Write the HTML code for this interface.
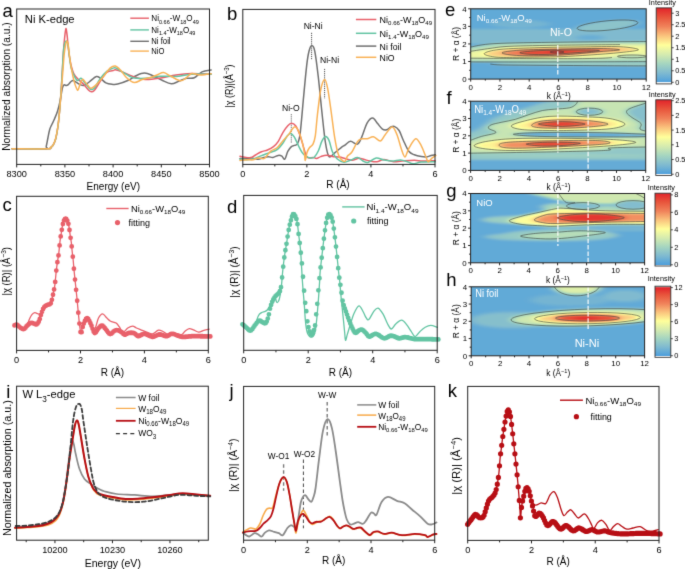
<!DOCTYPE html>
<html><head><meta charset="utf-8"><style>
html,body{margin:0;padding:0;background:#fff;}
svg{display:block;will-change:transform;}
text{font-family:"Liberation Sans", sans-serif;}
</style></head><body>
<svg width="685" height="569" viewBox="0 0 685 569" font-family='"Liberation Sans", sans-serif'>
<defs><filter id="soft" x="0" y="0" width="685" height="569" filterUnits="userSpaceOnUse" color-interpolation-filters="sRGB"><feConvolveMatrix order="3" kernelMatrix="0.0113 0.0838 0.0113 0.0838 0.6193 0.0838 0.0113 0.0838 0.0113" edgeMode="duplicate" preserveAlpha="true"/></filter><filter id="cmap" x="0" y="0" width="1" height="1" color-interpolation-filters="sRGB" filterUnits="objectBoundingBox"><feGaussianBlur stdDeviation="{BX} {BY}" result="b"/><feComponentTransfer><feFuncR type="table" tableValues="0.306 0.498 0.647 0.835 1.000 0.980 0.941 0.910 0.886"/><feFuncG type="table" tableValues="0.624 0.729 0.835 0.922 1.000 0.765 0.510 0.333 0.137"/><feFuncB type="table" tableValues="0.863 0.816 0.753 0.686 0.608 0.490 0.353 0.235 0.165"/></feComponentTransfer></filter>
<filter id="cmap0" x="0" y="0" width="1" height="1" color-interpolation-filters="sRGB" filterUnits="objectBoundingBox"><feComponentTransfer><feFuncR type="table" tableValues="0.306 0.498 0.647 0.835 1.000 0.980 0.941 0.910 0.886"/><feFuncG type="table" tableValues="0.624 0.729 0.835 0.922 1.000 0.765 0.510 0.333 0.137"/><feFuncB type="table" tableValues="0.863 0.816 0.753 0.686 0.608 0.490 0.353 0.235 0.165"/></feComponentTransfer></filter>
<clipPath id="wc1"><rect x="470.7" y="8.8" width="175.5" height="70.3"/></clipPath>
<filter id="wf1" filterUnits="userSpaceOnUse" x="450.7" y="-11.2" width="215.5" height="110.3" color-interpolation-filters="sRGB"><feGaussianBlur stdDeviation="4.5 1.3"/><feComponentTransfer><feFuncR type="table" tableValues="0.306 0.498 0.647 0.835 1.000 0.980 0.941 0.910 0.886"/><feFuncG type="table" tableValues="0.624 0.729 0.835 0.922 1.000 0.765 0.510 0.333 0.137"/><feFuncB type="table" tableValues="0.863 0.816 0.753 0.686 0.608 0.490 0.353 0.235 0.165"/></feComponentTransfer></filter>
<linearGradient id="cbg4" x1="0" y1="0" x2="0" y2="1"><stop offset="0.0000" stop-color="rgb(226,35,42)"/><stop offset="0.1223" stop-color="rgb(232,85,60)"/><stop offset="0.2447" stop-color="rgb(240,130,90)"/><stop offset="0.3670" stop-color="rgb(250,195,125)"/><stop offset="0.4894" stop-color="rgb(255,255,155)"/><stop offset="0.6117" stop-color="rgb(213,235,175)"/><stop offset="0.7341" stop-color="rgb(165,213,192)"/><stop offset="0.8564" stop-color="rgb(127,186,208)"/><stop offset="0.9788" stop-color="rgb(78,159,220)"/><stop offset="0.9818" stop-color="#ffffff"/><stop offset="1.0000" stop-color="#ffffff"/></linearGradient>
<clipPath id="wc2"><rect x="470.6" y="101.2" width="175.1" height="69.2"/></clipPath>
<filter id="wf2" filterUnits="userSpaceOnUse" x="450.6" y="81.2" width="215.1" height="109.2" color-interpolation-filters="sRGB"><feGaussianBlur stdDeviation="4.5 1.3"/><feComponentTransfer><feFuncR type="table" tableValues="0.306 0.498 0.647 0.835 1.000 0.980 0.941 0.910 0.886"/><feFuncG type="table" tableValues="0.624 0.729 0.835 0.922 1.000 0.765 0.510 0.333 0.137"/><feFuncB type="table" tableValues="0.863 0.816 0.753 0.686 0.608 0.490 0.353 0.235 0.165"/></feComponentTransfer></filter>
<linearGradient id="cbg7" x1="0" y1="0" x2="0" y2="1"><stop offset="0.0000" stop-color="rgb(226,35,42)"/><stop offset="0.1231" stop-color="rgb(232,85,60)"/><stop offset="0.2461" stop-color="rgb(240,130,90)"/><stop offset="0.3692" stop-color="rgb(250,195,125)"/><stop offset="0.4922" stop-color="rgb(255,255,155)"/><stop offset="0.6153" stop-color="rgb(213,235,175)"/><stop offset="0.7383" stop-color="rgb(165,213,192)"/><stop offset="0.8614" stop-color="rgb(127,186,208)"/><stop offset="0.9844" stop-color="rgb(78,159,220)"/><stop offset="0.9874" stop-color="#ffffff"/><stop offset="1.0000" stop-color="#ffffff"/></linearGradient>
<clipPath id="wc3"><rect x="470.6" y="193.5" width="174" height="69.3"/></clipPath>
<filter id="wf3" filterUnits="userSpaceOnUse" x="450.6" y="173.5" width="214" height="109.3" color-interpolation-filters="sRGB"><feGaussianBlur stdDeviation="4.5 1.3"/><feComponentTransfer><feFuncR type="table" tableValues="0.306 0.498 0.647 0.835 1.000 0.980 0.941 0.910 0.886"/><feFuncG type="table" tableValues="0.624 0.729 0.835 0.922 1.000 0.765 0.510 0.333 0.137"/><feFuncB type="table" tableValues="0.863 0.816 0.753 0.686 0.608 0.490 0.353 0.235 0.165"/></feComponentTransfer></filter>
<linearGradient id="cbg10" x1="0" y1="0" x2="0" y2="1"><stop offset="0.0000" stop-color="rgb(226,35,42)"/><stop offset="0.1229" stop-color="rgb(232,85,60)"/><stop offset="0.2458" stop-color="rgb(240,130,90)"/><stop offset="0.3687" stop-color="rgb(250,195,125)"/><stop offset="0.4916" stop-color="rgb(255,255,155)"/><stop offset="0.6145" stop-color="rgb(213,235,175)"/><stop offset="0.7374" stop-color="rgb(165,213,192)"/><stop offset="0.8603" stop-color="rgb(127,186,208)"/><stop offset="0.9832" stop-color="rgb(78,159,220)"/><stop offset="0.9862" stop-color="#ffffff"/><stop offset="1.0000" stop-color="#ffffff"/></linearGradient>
<clipPath id="wc4"><rect x="471.2" y="286.8" width="173.4" height="69"/></clipPath>
<filter id="wf4" filterUnits="userSpaceOnUse" x="451.2" y="266.8" width="213.4" height="109" color-interpolation-filters="sRGB"><feGaussianBlur stdDeviation="4.5 1.5"/><feComponentTransfer><feFuncR type="table" tableValues="0.306 0.498 0.647 0.835 1.000 0.980 0.941 0.910 0.886"/><feFuncG type="table" tableValues="0.624 0.729 0.835 0.922 1.000 0.765 0.510 0.333 0.137"/><feFuncB type="table" tableValues="0.863 0.816 0.753 0.686 0.608 0.490 0.353 0.235 0.165"/></feComponentTransfer></filter>
<linearGradient id="cbg13" x1="0" y1="0" x2="0" y2="1"><stop offset="0.0000" stop-color="#d8d8d8"/><stop offset="0.0120" stop-color="#d8d8d8"/><stop offset="0.0200" stop-color="rgb(226,35,42)"/><stop offset="0.1222" stop-color="rgb(232,85,60)"/><stop offset="0.2444" stop-color="rgb(240,130,90)"/><stop offset="0.3666" stop-color="rgb(250,195,125)"/><stop offset="0.4888" stop-color="rgb(255,255,155)"/><stop offset="0.6110" stop-color="rgb(213,235,175)"/><stop offset="0.7332" stop-color="rgb(165,213,192)"/><stop offset="0.8554" stop-color="rgb(127,186,208)"/><stop offset="0.9777" stop-color="rgb(78,159,220)"/><stop offset="0.9807" stop-color="#ffffff"/><stop offset="1.0000" stop-color="#ffffff"/></linearGradient></defs>
<g filter="url(#soft)"><rect x="0" y="0" width="685" height="569" fill="#fff"/>
<text x="2.4" y="16.8" font-size="18.5" fill="#000" >a</text>
<text x="227" y="20" font-size="18.5" fill="#000" >b</text>
<text x="445" y="15.9" font-size="18.5" fill="#000" >e</text>
<text x="446.6" y="104.4" font-size="18.5" fill="#000" >f</text>
<text x="446.2" y="197.3" font-size="18.5" fill="#000" >g</text>
<text x="446.3" y="286" font-size="18.5" fill="#000" >h</text>
<text x="2.4" y="211" font-size="18.5" fill="#000" >c</text>
<text x="227" y="212.7" font-size="18.5" fill="#000" >d</text>
<text x="6.3" y="397.5" font-size="18.5" fill="#000" >i</text>
<text x="229.5" y="396.6" font-size="18.5" fill="#000" >j</text>
<text x="447.8" y="397" font-size="18.5" fill="#000" >k</text>
<line x1="16.7" y1="164.4" x2="16.7" y2="167.4" stroke="#222222" stroke-width="1" />
<line x1="64.9" y1="164.4" x2="64.9" y2="167.4" stroke="#222222" stroke-width="1" />
<line x1="113.1" y1="164.4" x2="113.1" y2="167.4" stroke="#222222" stroke-width="1" />
<line x1="161.3" y1="164.4" x2="161.3" y2="167.4" stroke="#222222" stroke-width="1" />
<line x1="209.5" y1="164.4" x2="209.5" y2="167.4" stroke="#222222" stroke-width="1" />
<line x1="40.8" y1="164.4" x2="40.8" y2="166.4" stroke="#222222" stroke-width="1" />
<line x1="89" y1="164.4" x2="89" y2="166.4" stroke="#222222" stroke-width="1" />
<line x1="137.2" y1="164.4" x2="137.2" y2="166.4" stroke="#222222" stroke-width="1" />
<line x1="185.4" y1="164.4" x2="185.4" y2="166.4" stroke="#222222" stroke-width="1" />
<text x="16.7" y="176.6" font-size="9.94" fill="#000" text-anchor="middle" textLength="20.46" lengthAdjust="spacingAndGlyphs" >8300</text>
<text x="64.9" y="176.6" font-size="9.94" fill="#000" text-anchor="middle" textLength="20.46" lengthAdjust="spacingAndGlyphs" >8350</text>
<text x="113.1" y="176.6" font-size="9.94" fill="#000" text-anchor="middle" textLength="20.46" lengthAdjust="spacingAndGlyphs" >8400</text>
<text x="161.3" y="176.6" font-size="9.94" fill="#000" text-anchor="middle" textLength="20.46" lengthAdjust="spacingAndGlyphs" >8450</text>
<text x="209.5" y="176.6" font-size="9.94" fill="#000" text-anchor="middle" textLength="20.46" lengthAdjust="spacingAndGlyphs" >8500</text>
<text x="113.3" y="189.8" font-size="10" fill="#000" text-anchor="middle" textLength="53.5" lengthAdjust="spacingAndGlyphs" >Energy (eV)</text>
<text x="10.5" y="86.6" font-size="10" fill="#000" text-anchor="middle" transform="rotate(-90 10.5 86.6)" textLength="128.5" lengthAdjust="spacingAndGlyphs" >Normalized absorption (a.u.)</text>
<text x="24.8" y="22.8" font-size="11.8" fill="#000" textLength="49.8" lengthAdjust="spacingAndGlyphs" >Ni K-edge</text>
<line x1="130.3" y1="18.2" x2="148.9" y2="18.2" stroke="#e8606a" stroke-width="1.4" />
<text x="151.3" y="21.3" font-size="8.6" fill="#000" textLength="47.5" lengthAdjust="spacingAndGlyphs" >Ni<tspan font-size="5.85" dy="2.41">0.66</tspan><tspan dy="-2.41">-W</tspan><tspan font-size="5.85" dy="2.41">18</tspan><tspan dy="-2.41">O</tspan><tspan font-size="5.85" dy="2.41">49</tspan></text>
<line x1="130.3" y1="29.9" x2="148.9" y2="29.9" stroke="#62c4a2" stroke-width="1.4" />
<text x="151.3" y="33" font-size="8.6" fill="#000" textLength="44" lengthAdjust="spacingAndGlyphs" >Ni<tspan font-size="5.85" dy="2.41">1.4</tspan><tspan dy="-2.41">-W</tspan><tspan font-size="5.85" dy="2.41">18</tspan><tspan dy="-2.41">O</tspan><tspan font-size="5.85" dy="2.41">49</tspan></text>
<line x1="130.3" y1="41.3" x2="148.9" y2="41.3" stroke="#707070" stroke-width="1.4" />
<text x="151.3" y="44.4" font-size="8.6" fill="#000" textLength="19.3" lengthAdjust="spacingAndGlyphs" >Ni foil</text>
<line x1="130.3" y1="51.1" x2="148.9" y2="51.1" stroke="#f9b256" stroke-width="1.4" />
<text x="151.3" y="54.2" font-size="8.6" fill="#000" textLength="13.2" lengthAdjust="spacingAndGlyphs" >NiO</text>
<line x1="242.8" y1="164.4" x2="242.8" y2="167.4" stroke="#222222" stroke-width="1" />
<line x1="306.87" y1="164.4" x2="306.87" y2="167.4" stroke="#222222" stroke-width="1" />
<line x1="370.93" y1="164.4" x2="370.93" y2="167.4" stroke="#222222" stroke-width="1" />
<line x1="435" y1="164.4" x2="435" y2="167.4" stroke="#222222" stroke-width="1" />
<line x1="274.83" y1="164.4" x2="274.83" y2="166.4" stroke="#222222" stroke-width="1" />
<line x1="338.9" y1="164.4" x2="338.9" y2="166.4" stroke="#222222" stroke-width="1" />
<line x1="402.97" y1="164.4" x2="402.97" y2="166.4" stroke="#222222" stroke-width="1" />
<text x="242.8" y="177" font-size="9.94" fill="#000" text-anchor="middle" textLength="5.12" lengthAdjust="spacingAndGlyphs" >0</text>
<text x="306.87" y="177" font-size="9.94" fill="#000" text-anchor="middle" textLength="5.12" lengthAdjust="spacingAndGlyphs" >2</text>
<text x="370.93" y="177" font-size="9.94" fill="#000" text-anchor="middle" textLength="5.12" lengthAdjust="spacingAndGlyphs" >4</text>
<text x="435" y="177" font-size="9.94" fill="#000" text-anchor="middle" textLength="5.12" lengthAdjust="spacingAndGlyphs" >6</text>
<text x="338" y="188" font-size="10" fill="#000" text-anchor="middle" >R (Å)</text>
<text x="232.6" y="86" font-size="10.3" fill="#000" text-anchor="middle" transform="rotate(-90 232.6 86)" textLength="43" lengthAdjust="spacingAndGlyphs" >|χ (R)|(Å<tspan font-size="7" dy="-3.91">−3</tspan><tspan dy="3.91">)</tspan></text>
<line x1="355.9" y1="19.5" x2="376.3" y2="19.5" stroke="#e8606a" stroke-width="1.5" />
<text x="379.6" y="22.9" font-size="8.8" fill="#000" textLength="52.5" lengthAdjust="spacingAndGlyphs" >Ni<tspan font-size="5.98" dy="2.46">0.66</tspan><tspan dy="-2.46">-W</tspan><tspan font-size="5.98" dy="2.46">18</tspan><tspan dy="-2.46">O</tspan><tspan font-size="5.98" dy="2.46">49</tspan></text>
<line x1="355.9" y1="33.3" x2="376.3" y2="33.3" stroke="#62c4a2" stroke-width="1.5" />
<text x="379.6" y="36.7" font-size="8.8" fill="#000" textLength="49.3" lengthAdjust="spacingAndGlyphs" >Ni<tspan font-size="5.98" dy="2.46">1.4</tspan><tspan dy="-2.46">-W</tspan><tspan font-size="5.98" dy="2.46">18</tspan><tspan dy="-2.46">O</tspan><tspan font-size="5.98" dy="2.46">49</tspan></text>
<line x1="355.9" y1="46.1" x2="376.3" y2="46.1" stroke="#707070" stroke-width="1.5" />
<text x="379.6" y="49.5" font-size="8.8" fill="#000" textLength="21.8" lengthAdjust="spacingAndGlyphs" >Ni foil</text>
<line x1="355.9" y1="57.3" x2="376.3" y2="57.3" stroke="#f9b256" stroke-width="1.5" />
<text x="379.6" y="60.7" font-size="8.8" fill="#000" textLength="15" lengthAdjust="spacingAndGlyphs" >NiO</text>
<text x="313.2" y="29" font-size="8.6" fill="#000" text-anchor="middle" >Ni-Ni</text>
<text x="329.5" y="62.7" font-size="8.6" fill="#000" text-anchor="middle" >Ni-Ni</text>
<text x="290.8" y="111.2" font-size="8.6" fill="#000" text-anchor="middle" >Ni-O</text>
<line x1="311.6" y1="32.8" x2="311.6" y2="60.1" stroke="#222" stroke-width="0.8" stroke-dasharray="1.2 0.9"/>
<line x1="324.6" y1="68.9" x2="324.6" y2="98.6" stroke="#222" stroke-width="0.8" stroke-dasharray="1.2 0.9"/>
<line x1="291.3" y1="114.1" x2="291.3" y2="143.5" stroke="#444" stroke-width="0.8" stroke-dasharray="1.2 0.9"/>
<line x1="16.6" y1="350.4" x2="16.6" y2="353.4" stroke="#222222" stroke-width="1" />
<line x1="80.5" y1="350.4" x2="80.5" y2="353.4" stroke="#222222" stroke-width="1" />
<line x1="144.4" y1="350.4" x2="144.4" y2="353.4" stroke="#222222" stroke-width="1" />
<line x1="208.3" y1="350.4" x2="208.3" y2="353.4" stroke="#222222" stroke-width="1" />
<line x1="48.55" y1="350.4" x2="48.55" y2="352.4" stroke="#222222" stroke-width="1" />
<line x1="112.45" y1="350.4" x2="112.45" y2="352.4" stroke="#222222" stroke-width="1" />
<line x1="176.35" y1="350.4" x2="176.35" y2="352.4" stroke="#222222" stroke-width="1" />
<text x="16.6" y="363" font-size="9.94" fill="#000" text-anchor="middle" textLength="5.12" lengthAdjust="spacingAndGlyphs" >0</text>
<text x="80.5" y="363" font-size="9.94" fill="#000" text-anchor="middle" textLength="5.12" lengthAdjust="spacingAndGlyphs" >2</text>
<text x="144.4" y="363" font-size="9.94" fill="#000" text-anchor="middle" textLength="5.12" lengthAdjust="spacingAndGlyphs" >4</text>
<text x="208.3" y="363" font-size="9.94" fill="#000" text-anchor="middle" textLength="5.12" lengthAdjust="spacingAndGlyphs" >6</text>
<text x="112.4" y="376.4" font-size="10" fill="#000" text-anchor="middle" >R (Å)</text>
<text x="10.4" y="271.3" font-size="10.8" fill="#000" text-anchor="middle" transform="rotate(-90 10.4 271.3)" textLength="48.6" lengthAdjust="spacingAndGlyphs" >|χ (R)| (Å<tspan font-size="7.34" dy="-4.1">−3</tspan><tspan dy="4.1">)</tspan></text>
<line x1="106.3" y1="208.5" x2="128.6" y2="208.5" stroke="#e8606a" stroke-width="1.4" />
<text x="130.9" y="211.8" font-size="8.8" fill="#000" textLength="54.5" lengthAdjust="spacingAndGlyphs" >Ni<tspan font-size="5.98" dy="2.46">0.66</tspan><tspan dy="-2.46">-W</tspan><tspan font-size="5.98" dy="2.46">18</tspan><tspan dy="-2.46">O</tspan><tspan font-size="5.98" dy="2.46">49</tspan></text>
<circle cx="117.5" cy="222.6" r="2.6" fill="#e8606a"/>
<text x="128.6" y="225.9" font-size="8.8" fill="#000" textLength="21.5" lengthAdjust="spacingAndGlyphs" >fitting</text>
<line x1="243.7" y1="350.3" x2="243.7" y2="353.3" stroke="#222222" stroke-width="1" />
<line x1="308.2" y1="350.3" x2="308.2" y2="353.3" stroke="#222222" stroke-width="1" />
<line x1="372.7" y1="350.3" x2="372.7" y2="353.3" stroke="#222222" stroke-width="1" />
<line x1="437.2" y1="350.3" x2="437.2" y2="353.3" stroke="#222222" stroke-width="1" />
<line x1="275.95" y1="350.3" x2="275.95" y2="352.3" stroke="#222222" stroke-width="1" />
<line x1="340.45" y1="350.3" x2="340.45" y2="352.3" stroke="#222222" stroke-width="1" />
<line x1="404.95" y1="350.3" x2="404.95" y2="352.3" stroke="#222222" stroke-width="1" />
<text x="243.7" y="363" font-size="9.94" fill="#000" text-anchor="middle" textLength="5.12" lengthAdjust="spacingAndGlyphs" >0</text>
<text x="308.2" y="363" font-size="9.94" fill="#000" text-anchor="middle" textLength="5.12" lengthAdjust="spacingAndGlyphs" >2</text>
<text x="372.7" y="363" font-size="9.94" fill="#000" text-anchor="middle" textLength="5.12" lengthAdjust="spacingAndGlyphs" >4</text>
<text x="437.2" y="363" font-size="9.94" fill="#000" text-anchor="middle" textLength="5.12" lengthAdjust="spacingAndGlyphs" >6</text>
<text x="340.4" y="376.4" font-size="10" fill="#000" text-anchor="middle" >R (Å)</text>
<text x="237.8" y="272" font-size="10.8" fill="#000" text-anchor="middle" transform="rotate(-90 237.8 272)" textLength="51.4" lengthAdjust="spacingAndGlyphs" >|χ (R)| (Å<tspan font-size="7.34" dy="-4.1">−3</tspan><tspan dy="4.1">)</tspan></text>
<line x1="342.2" y1="206.9" x2="364.6" y2="206.9" stroke="#62c4a2" stroke-width="1.4" />
<text x="366.5" y="210.1" font-size="8.8" fill="#000" textLength="52" lengthAdjust="spacingAndGlyphs" >Ni<tspan font-size="5.98" dy="2.46">1.4</tspan><tspan dy="-2.46">-W</tspan><tspan font-size="5.98" dy="2.46">18</tspan><tspan dy="-2.46">O</tspan><tspan font-size="5.98" dy="2.46">49</tspan></text>
<circle cx="353.7" cy="221" r="2.6" fill="#62c4a2"/>
<text x="366.9" y="224" font-size="8.8" fill="#000" textLength="21.5" lengthAdjust="spacingAndGlyphs" >fitting</text>
<line x1="54.94" y1="540.2" x2="54.94" y2="543.2" stroke="#222222" stroke-width="1" />
<line x1="112.45" y1="540.2" x2="112.45" y2="543.2" stroke="#222222" stroke-width="1" />
<line x1="169.96" y1="540.2" x2="169.96" y2="543.2" stroke="#222222" stroke-width="1" />
<line x1="26.19" y1="540.2" x2="26.19" y2="542.2" stroke="#222222" stroke-width="1" />
<line x1="83.7" y1="540.2" x2="83.7" y2="542.2" stroke="#222222" stroke-width="1" />
<line x1="141.21" y1="540.2" x2="141.21" y2="542.2" stroke="#222222" stroke-width="1" />
<line x1="198.72" y1="540.2" x2="198.72" y2="542.2" stroke="#222222" stroke-width="1" />
<text x="54.94" y="553" font-size="9.94" fill="#000" text-anchor="middle" textLength="25.58" lengthAdjust="spacingAndGlyphs" >10200</text>
<text x="112.45" y="553" font-size="9.94" fill="#000" text-anchor="middle" textLength="25.58" lengthAdjust="spacingAndGlyphs" >10230</text>
<text x="169.96" y="553" font-size="9.94" fill="#000" text-anchor="middle" textLength="25.58" lengthAdjust="spacingAndGlyphs" >10260</text>
<text x="112.8" y="566.6" font-size="10.8" fill="#000" text-anchor="middle" textLength="56.2" lengthAdjust="spacingAndGlyphs" >Energy (eV)</text>
<text x="11" y="468.1" font-size="10" fill="#000" text-anchor="middle" transform="rotate(-90 11 468.1)" textLength="136" lengthAdjust="spacingAndGlyphs" >Normalized absorption (a.u.)</text>
<text x="22.4" y="398.4" font-size="11.6" fill="#000" textLength="53" lengthAdjust="spacingAndGlyphs" >W L<tspan font-size="8.5" dy="3.25">3</tspan><tspan dy="-3.25">-edge</tspan></text>
<line x1="115.9" y1="397.5" x2="135.6" y2="397.5" stroke="#8a8a8a" stroke-width="1.5" />
<line x1="115.9" y1="408.4" x2="135.6" y2="408.4" stroke="#f8aa4a" stroke-width="1.2" />
<line x1="115.9" y1="420.8" x2="135.6" y2="420.8" stroke="#b70e14" stroke-width="1.8" />
<line x1="115.9" y1="433.7" x2="135.6" y2="433.7" stroke="#333" stroke-width="1.3" stroke-dasharray="4 3.2"/>
<text x="138.2" y="400.6" font-size="9" fill="#000" textLength="21.3" lengthAdjust="spacingAndGlyphs" >W foil</text>
<text x="138.2" y="411.6" font-size="9" fill="#000" textLength="28.3" lengthAdjust="spacingAndGlyphs" >W<tspan font-size="6.6" dy="2.52">18</tspan><tspan dy="-2.52">O</tspan><tspan font-size="6.6" dy="2.52">49</tspan></text>
<text x="138.2" y="423.7" font-size="9" fill="#000" textLength="51" lengthAdjust="spacingAndGlyphs" >Ni<tspan font-size="6.3" dy="2.52">0.66</tspan><tspan dy="-2.52">-W</tspan><tspan font-size="6.3" dy="2.52">18</tspan><tspan dy="-2.52">O</tspan><tspan font-size="6.3" dy="2.52">49</tspan></text>
<text x="138.2" y="436" font-size="9" fill="#000" textLength="18" lengthAdjust="spacingAndGlyphs" >WO<tspan font-size="6.6" dy="2.52">3</tspan></text>
<line x1="243.6" y1="540.2" x2="243.6" y2="543.2" stroke="#222222" stroke-width="1" />
<line x1="307.3" y1="540.2" x2="307.3" y2="543.2" stroke="#222222" stroke-width="1" />
<line x1="371" y1="540.2" x2="371" y2="543.2" stroke="#222222" stroke-width="1" />
<line x1="434.7" y1="540.2" x2="434.7" y2="543.2" stroke="#222222" stroke-width="1" />
<line x1="275.45" y1="540.2" x2="275.45" y2="542.2" stroke="#222222" stroke-width="1" />
<line x1="339.15" y1="540.2" x2="339.15" y2="542.2" stroke="#222222" stroke-width="1" />
<line x1="402.85" y1="540.2" x2="402.85" y2="542.2" stroke="#222222" stroke-width="1" />
<text x="243.6" y="552.8" font-size="9.94" fill="#000" text-anchor="middle" textLength="5.12" lengthAdjust="spacingAndGlyphs" >0</text>
<text x="307.3" y="552.8" font-size="9.94" fill="#000" text-anchor="middle" textLength="5.12" lengthAdjust="spacingAndGlyphs" >2</text>
<text x="371" y="552.8" font-size="9.94" fill="#000" text-anchor="middle" textLength="5.12" lengthAdjust="spacingAndGlyphs" >4</text>
<text x="434.7" y="552.8" font-size="9.94" fill="#000" text-anchor="middle" textLength="5.12" lengthAdjust="spacingAndGlyphs" >6</text>
<text x="333.7" y="564.3" font-size="10" fill="#000" text-anchor="middle" >R (Å)</text>
<text x="237.4" y="465.2" font-size="10.8" fill="#000" text-anchor="middle" transform="rotate(-90 237.4 465.2)" textLength="53.5" lengthAdjust="spacingAndGlyphs" >|χ (R)| (Å<tspan font-size="7.34" dy="-4.1">−4</tspan><tspan dy="4.1">)</tspan></text>
<line x1="357.2" y1="404.9" x2="376.3" y2="404.9" stroke="#8a8a8a" stroke-width="1.5" />
<line x1="357.2" y1="415.1" x2="376.3" y2="415.1" stroke="#f8aa4a" stroke-width="1.5" />
<line x1="357.2" y1="426.8" x2="376.3" y2="426.8" stroke="#b70e14" stroke-width="1.8" />
<text x="378.2" y="407.8" font-size="8.9" fill="#000" textLength="21" lengthAdjust="spacingAndGlyphs" >W foil</text>
<text x="378.2" y="418.6" font-size="8.9" fill="#000" textLength="27.3" lengthAdjust="spacingAndGlyphs" >W<tspan font-size="6.5" dy="2.49">18</tspan><tspan dy="-2.49">O</tspan><tspan font-size="6.5" dy="2.49">49</tspan></text>
<text x="378.2" y="429.8" font-size="8.9" fill="#000" textLength="49.5" lengthAdjust="spacingAndGlyphs" >Ni<tspan font-size="6.2" dy="2.49">0.66</tspan><tspan dy="-2.49">-W</tspan><tspan font-size="6.2" dy="2.49">18</tspan><tspan dy="-2.49">O</tspan><tspan font-size="6.2" dy="2.49">49</tspan></text>
<text x="327.2" y="398.2" font-size="8.3" fill="#000" text-anchor="middle" >W-W</text>
<text x="278.5" y="459.2" font-size="8.3" fill="#000" text-anchor="middle" >W-O1</text>
<text x="304.4" y="456.8" font-size="8.3" fill="#000" text-anchor="middle" >W-O2</text>
<line x1="327.2" y1="402" x2="327.2" y2="436.3" stroke="#7a7a7a" stroke-width="1.4" stroke-dasharray="3.5 2.5"/>
<line x1="283.6" y1="464.3" x2="283.6" y2="490.8" stroke="#7a7a7a" stroke-width="1.4" stroke-dasharray="3.5 2.5"/>
<line x1="303.4" y1="459.5" x2="303.4" y2="528.3" stroke="#444" stroke-width="1.0" stroke-dasharray="3.5 2.5"/>
<line x1="467.7" y1="540.4" x2="467.7" y2="543.4" stroke="#222222" stroke-width="1" />
<line x1="531.47" y1="540.4" x2="531.47" y2="543.4" stroke="#222222" stroke-width="1" />
<line x1="595.23" y1="540.4" x2="595.23" y2="543.4" stroke="#222222" stroke-width="1" />
<line x1="659" y1="540.4" x2="659" y2="543.4" stroke="#222222" stroke-width="1" />
<line x1="499.58" y1="540.4" x2="499.58" y2="542.4" stroke="#222222" stroke-width="1" />
<line x1="563.35" y1="540.4" x2="563.35" y2="542.4" stroke="#222222" stroke-width="1" />
<line x1="627.12" y1="540.4" x2="627.12" y2="542.4" stroke="#222222" stroke-width="1" />
<text x="467.7" y="553.2" font-size="9.94" fill="#000" text-anchor="middle" textLength="5.12" lengthAdjust="spacingAndGlyphs" >0</text>
<text x="531.47" y="553.2" font-size="9.94" fill="#000" text-anchor="middle" textLength="5.12" lengthAdjust="spacingAndGlyphs" >2</text>
<text x="595.23" y="553.2" font-size="9.94" fill="#000" text-anchor="middle" textLength="5.12" lengthAdjust="spacingAndGlyphs" >4</text>
<text x="659" y="553.2" font-size="9.94" fill="#000" text-anchor="middle" textLength="5.12" lengthAdjust="spacingAndGlyphs" >6</text>
<text x="558.2" y="564.6" font-size="10" fill="#000" text-anchor="middle" >R (Å)</text>
<text x="459.8" y="465.9" font-size="10.8" fill="#000" text-anchor="middle" transform="rotate(-90 459.8 465.9)" textLength="57.7" lengthAdjust="spacingAndGlyphs" >|χ (R)| (Å<tspan font-size="7.34" dy="-4.1">−4</tspan><tspan dy="4.1">)</tspan></text>
<line x1="560" y1="400.2" x2="582.9" y2="400.2" stroke="#b70e14" stroke-width="1.4" />
<text x="585.5" y="403.8" font-size="8.8" fill="#000" textLength="55.5" lengthAdjust="spacingAndGlyphs" >Ni<tspan font-size="5.98" dy="2.46">0.66</tspan><tspan dy="-2.46">-W</tspan><tspan font-size="5.98" dy="2.46">18</tspan><tspan dy="-2.46">O</tspan><tspan font-size="5.98" dy="2.46">49</tspan></text>
<circle cx="576.4" cy="416.7" r="2.6" fill="#b70e14"/>
<text x="590.5" y="419.6" font-size="8.8" fill="#000" textLength="21.3" lengthAdjust="spacingAndGlyphs" >fitting</text>
<line x1="470.7" y1="79.1" x2="470.7" y2="81.6" stroke="#222222" stroke-width="1" />
<line x1="499.95" y1="79.1" x2="499.95" y2="81.6" stroke="#222222" stroke-width="1" />
<line x1="529.2" y1="79.1" x2="529.2" y2="81.6" stroke="#222222" stroke-width="1" />
<line x1="558.45" y1="79.1" x2="558.45" y2="81.6" stroke="#222222" stroke-width="1" />
<line x1="587.7" y1="79.1" x2="587.7" y2="81.6" stroke="#222222" stroke-width="1" />
<line x1="616.95" y1="79.1" x2="616.95" y2="81.6" stroke="#222222" stroke-width="1" />
<line x1="646.2" y1="79.1" x2="646.2" y2="81.6" stroke="#222222" stroke-width="1" />
<line x1="485.32" y1="79.1" x2="485.32" y2="80.6" stroke="#222222" stroke-width="1" />
<line x1="514.58" y1="79.1" x2="514.58" y2="80.6" stroke="#222222" stroke-width="1" />
<line x1="543.83" y1="79.1" x2="543.83" y2="80.6" stroke="#222222" stroke-width="1" />
<line x1="573.08" y1="79.1" x2="573.08" y2="80.6" stroke="#222222" stroke-width="1" />
<line x1="602.33" y1="79.1" x2="602.33" y2="80.6" stroke="#222222" stroke-width="1" />
<line x1="631.58" y1="79.1" x2="631.58" y2="80.6" stroke="#222222" stroke-width="1" />
<text x="470.7" y="89.6" font-size="7.9" fill="#000" text-anchor="middle" >0</text>
<text x="499.95" y="89.6" font-size="7.9" fill="#000" text-anchor="middle" >2</text>
<text x="529.2" y="89.6" font-size="7.9" fill="#000" text-anchor="middle" >4</text>
<text x="558.45" y="89.6" font-size="7.9" fill="#000" text-anchor="middle" >6</text>
<text x="587.7" y="89.6" font-size="7.9" fill="#000" text-anchor="middle" >8</text>
<text x="616.95" y="89.6" font-size="7.9" fill="#000" text-anchor="middle" >10</text>
<text x="646.2" y="89.6" font-size="7.9" fill="#000" text-anchor="middle" >12</text>
<line x1="468.2" y1="79.1" x2="470.7" y2="79.1" stroke="#222222" stroke-width="1" />
<line x1="468.2" y1="61.52" x2="470.7" y2="61.52" stroke="#222222" stroke-width="1" />
<line x1="468.2" y1="43.95" x2="470.7" y2="43.95" stroke="#222222" stroke-width="1" />
<line x1="468.2" y1="26.38" x2="470.7" y2="26.38" stroke="#222222" stroke-width="1" />
<line x1="468.2" y1="8.8" x2="470.7" y2="8.8" stroke="#222222" stroke-width="1" />
<line x1="469.2" y1="70.31" x2="470.7" y2="70.31" stroke="#222222" stroke-width="1" />
<line x1="469.2" y1="52.74" x2="470.7" y2="52.74" stroke="#222222" stroke-width="1" />
<line x1="469.2" y1="35.16" x2="470.7" y2="35.16" stroke="#222222" stroke-width="1" />
<line x1="469.2" y1="17.59" x2="470.7" y2="17.59" stroke="#222222" stroke-width="1" />
<text x="466.7" y="81.86" font-size="7.9" fill="#000" text-anchor="end" >0</text>
<text x="466.7" y="64.29" font-size="7.9" fill="#000" text-anchor="end" >1</text>
<text x="466.7" y="46.71" font-size="7.9" fill="#000" text-anchor="end" >2</text>
<text x="466.7" y="29.14" font-size="7.9" fill="#000" text-anchor="end" >3</text>
<text x="466.7" y="11.56" font-size="7.9" fill="#000" text-anchor="end" >4</text>
<text x="558.75" y="99.1" font-size="8.3" fill="#000" text-anchor="middle" >k (Å<tspan font-size="5.64" dy="-3.15">−1</tspan><tspan dy="3.15">)</tspan></text>
<text x="458.8" y="43.95" font-size="8.2" fill="#000" text-anchor="middle" transform="rotate(-90 458.8 43.95)" textLength="34" lengthAdjust="spacingAndGlyphs" >R + α (Å)</text>
<line x1="470.6" y1="170.4" x2="470.6" y2="172.9" stroke="#222222" stroke-width="1" />
<line x1="499.78" y1="170.4" x2="499.78" y2="172.9" stroke="#222222" stroke-width="1" />
<line x1="528.97" y1="170.4" x2="528.97" y2="172.9" stroke="#222222" stroke-width="1" />
<line x1="558.15" y1="170.4" x2="558.15" y2="172.9" stroke="#222222" stroke-width="1" />
<line x1="587.33" y1="170.4" x2="587.33" y2="172.9" stroke="#222222" stroke-width="1" />
<line x1="616.52" y1="170.4" x2="616.52" y2="172.9" stroke="#222222" stroke-width="1" />
<line x1="645.7" y1="170.4" x2="645.7" y2="172.9" stroke="#222222" stroke-width="1" />
<line x1="485.19" y1="170.4" x2="485.19" y2="171.9" stroke="#222222" stroke-width="1" />
<line x1="514.38" y1="170.4" x2="514.38" y2="171.9" stroke="#222222" stroke-width="1" />
<line x1="543.56" y1="170.4" x2="543.56" y2="171.9" stroke="#222222" stroke-width="1" />
<line x1="572.74" y1="170.4" x2="572.74" y2="171.9" stroke="#222222" stroke-width="1" />
<line x1="601.93" y1="170.4" x2="601.93" y2="171.9" stroke="#222222" stroke-width="1" />
<line x1="631.11" y1="170.4" x2="631.11" y2="171.9" stroke="#222222" stroke-width="1" />
<text x="470.6" y="180.9" font-size="7.9" fill="#000" text-anchor="middle" >0</text>
<text x="499.78" y="180.9" font-size="7.9" fill="#000" text-anchor="middle" >2</text>
<text x="528.97" y="180.9" font-size="7.9" fill="#000" text-anchor="middle" >4</text>
<text x="558.15" y="180.9" font-size="7.9" fill="#000" text-anchor="middle" >6</text>
<text x="587.33" y="180.9" font-size="7.9" fill="#000" text-anchor="middle" >8</text>
<text x="616.52" y="180.9" font-size="7.9" fill="#000" text-anchor="middle" >10</text>
<text x="645.7" y="180.9" font-size="7.9" fill="#000" text-anchor="middle" >12</text>
<line x1="468.1" y1="170.4" x2="470.6" y2="170.4" stroke="#222222" stroke-width="1" />
<line x1="468.1" y1="153.1" x2="470.6" y2="153.1" stroke="#222222" stroke-width="1" />
<line x1="468.1" y1="135.8" x2="470.6" y2="135.8" stroke="#222222" stroke-width="1" />
<line x1="468.1" y1="118.5" x2="470.6" y2="118.5" stroke="#222222" stroke-width="1" />
<line x1="468.1" y1="101.2" x2="470.6" y2="101.2" stroke="#222222" stroke-width="1" />
<line x1="469.1" y1="161.75" x2="470.6" y2="161.75" stroke="#222222" stroke-width="1" />
<line x1="469.1" y1="144.45" x2="470.6" y2="144.45" stroke="#222222" stroke-width="1" />
<line x1="469.1" y1="127.15" x2="470.6" y2="127.15" stroke="#222222" stroke-width="1" />
<line x1="469.1" y1="109.85" x2="470.6" y2="109.85" stroke="#222222" stroke-width="1" />
<text x="466.6" y="173.16" font-size="7.9" fill="#000" text-anchor="end" >0</text>
<text x="466.6" y="155.86" font-size="7.9" fill="#000" text-anchor="end" >1</text>
<text x="466.6" y="138.56" font-size="7.9" fill="#000" text-anchor="end" >2</text>
<text x="466.6" y="121.27" font-size="7.9" fill="#000" text-anchor="end" >3</text>
<text x="466.6" y="103.97" font-size="7.9" fill="#000" text-anchor="end" >4</text>
<text x="558.45" y="190.4" font-size="8.3" fill="#000" text-anchor="middle" >k (Å<tspan font-size="5.64" dy="-3.15">−1</tspan><tspan dy="3.15">)</tspan></text>
<text x="458.8" y="135.8" font-size="8.2" fill="#000" text-anchor="middle" transform="rotate(-90 458.8 135.8)" textLength="34" lengthAdjust="spacingAndGlyphs" >R + α (Å)</text>
<line x1="470.6" y1="262.8" x2="470.6" y2="265.3" stroke="#222222" stroke-width="1" />
<line x1="499.6" y1="262.8" x2="499.6" y2="265.3" stroke="#222222" stroke-width="1" />
<line x1="528.6" y1="262.8" x2="528.6" y2="265.3" stroke="#222222" stroke-width="1" />
<line x1="557.6" y1="262.8" x2="557.6" y2="265.3" stroke="#222222" stroke-width="1" />
<line x1="586.6" y1="262.8" x2="586.6" y2="265.3" stroke="#222222" stroke-width="1" />
<line x1="615.6" y1="262.8" x2="615.6" y2="265.3" stroke="#222222" stroke-width="1" />
<line x1="644.6" y1="262.8" x2="644.6" y2="265.3" stroke="#222222" stroke-width="1" />
<line x1="485.1" y1="262.8" x2="485.1" y2="264.3" stroke="#222222" stroke-width="1" />
<line x1="514.1" y1="262.8" x2="514.1" y2="264.3" stroke="#222222" stroke-width="1" />
<line x1="543.1" y1="262.8" x2="543.1" y2="264.3" stroke="#222222" stroke-width="1" />
<line x1="572.1" y1="262.8" x2="572.1" y2="264.3" stroke="#222222" stroke-width="1" />
<line x1="601.1" y1="262.8" x2="601.1" y2="264.3" stroke="#222222" stroke-width="1" />
<line x1="630.1" y1="262.8" x2="630.1" y2="264.3" stroke="#222222" stroke-width="1" />
<text x="470.6" y="273.3" font-size="7.9" fill="#000" text-anchor="middle" >0</text>
<text x="499.6" y="273.3" font-size="7.9" fill="#000" text-anchor="middle" >2</text>
<text x="528.6" y="273.3" font-size="7.9" fill="#000" text-anchor="middle" >4</text>
<text x="557.6" y="273.3" font-size="7.9" fill="#000" text-anchor="middle" >6</text>
<text x="586.6" y="273.3" font-size="7.9" fill="#000" text-anchor="middle" >8</text>
<text x="615.6" y="273.3" font-size="7.9" fill="#000" text-anchor="middle" >10</text>
<text x="644.6" y="273.3" font-size="7.9" fill="#000" text-anchor="middle" >12</text>
<line x1="468.1" y1="262.8" x2="470.6" y2="262.8" stroke="#222222" stroke-width="1" />
<line x1="468.1" y1="245.48" x2="470.6" y2="245.48" stroke="#222222" stroke-width="1" />
<line x1="468.1" y1="228.15" x2="470.6" y2="228.15" stroke="#222222" stroke-width="1" />
<line x1="468.1" y1="210.82" x2="470.6" y2="210.82" stroke="#222222" stroke-width="1" />
<line x1="468.1" y1="193.5" x2="470.6" y2="193.5" stroke="#222222" stroke-width="1" />
<line x1="469.1" y1="254.14" x2="470.6" y2="254.14" stroke="#222222" stroke-width="1" />
<line x1="469.1" y1="236.81" x2="470.6" y2="236.81" stroke="#222222" stroke-width="1" />
<line x1="469.1" y1="219.49" x2="470.6" y2="219.49" stroke="#222222" stroke-width="1" />
<line x1="469.1" y1="202.16" x2="470.6" y2="202.16" stroke="#222222" stroke-width="1" />
<text x="466.6" y="265.56" font-size="7.9" fill="#000" text-anchor="end" >0</text>
<text x="466.6" y="248.24" font-size="7.9" fill="#000" text-anchor="end" >1</text>
<text x="466.6" y="230.91" font-size="7.9" fill="#000" text-anchor="end" >2</text>
<text x="466.6" y="213.59" font-size="7.9" fill="#000" text-anchor="end" >3</text>
<text x="466.6" y="196.26" font-size="7.9" fill="#000" text-anchor="end" >4</text>
<text x="557.9" y="282.8" font-size="8.3" fill="#000" text-anchor="middle" >k (Å<tspan font-size="5.64" dy="-3.15">−1</tspan><tspan dy="3.15">)</tspan></text>
<text x="458.8" y="228.15" font-size="8.2" fill="#000" text-anchor="middle" transform="rotate(-90 458.8 228.15)" textLength="34" lengthAdjust="spacingAndGlyphs" >R + α (Å)</text>
<line x1="471.2" y1="355.8" x2="471.2" y2="358.3" stroke="#222222" stroke-width="1" />
<line x1="500.1" y1="355.8" x2="500.1" y2="358.3" stroke="#222222" stroke-width="1" />
<line x1="529" y1="355.8" x2="529" y2="358.3" stroke="#222222" stroke-width="1" />
<line x1="557.9" y1="355.8" x2="557.9" y2="358.3" stroke="#222222" stroke-width="1" />
<line x1="586.8" y1="355.8" x2="586.8" y2="358.3" stroke="#222222" stroke-width="1" />
<line x1="615.7" y1="355.8" x2="615.7" y2="358.3" stroke="#222222" stroke-width="1" />
<line x1="644.6" y1="355.8" x2="644.6" y2="358.3" stroke="#222222" stroke-width="1" />
<line x1="485.65" y1="355.8" x2="485.65" y2="357.3" stroke="#222222" stroke-width="1" />
<line x1="514.55" y1="355.8" x2="514.55" y2="357.3" stroke="#222222" stroke-width="1" />
<line x1="543.45" y1="355.8" x2="543.45" y2="357.3" stroke="#222222" stroke-width="1" />
<line x1="572.35" y1="355.8" x2="572.35" y2="357.3" stroke="#222222" stroke-width="1" />
<line x1="601.25" y1="355.8" x2="601.25" y2="357.3" stroke="#222222" stroke-width="1" />
<line x1="630.15" y1="355.8" x2="630.15" y2="357.3" stroke="#222222" stroke-width="1" />
<text x="471.2" y="366.3" font-size="7.9" fill="#000" text-anchor="middle" >0</text>
<text x="500.1" y="366.3" font-size="7.9" fill="#000" text-anchor="middle" >2</text>
<text x="529" y="366.3" font-size="7.9" fill="#000" text-anchor="middle" >4</text>
<text x="557.9" y="366.3" font-size="7.9" fill="#000" text-anchor="middle" >6</text>
<text x="586.8" y="366.3" font-size="7.9" fill="#000" text-anchor="middle" >8</text>
<text x="615.7" y="366.3" font-size="7.9" fill="#000" text-anchor="middle" >10</text>
<text x="644.6" y="366.3" font-size="7.9" fill="#000" text-anchor="middle" >12</text>
<line x1="468.7" y1="355.8" x2="471.2" y2="355.8" stroke="#222222" stroke-width="1" />
<line x1="468.7" y1="338.55" x2="471.2" y2="338.55" stroke="#222222" stroke-width="1" />
<line x1="468.7" y1="321.3" x2="471.2" y2="321.3" stroke="#222222" stroke-width="1" />
<line x1="468.7" y1="304.05" x2="471.2" y2="304.05" stroke="#222222" stroke-width="1" />
<line x1="468.7" y1="286.8" x2="471.2" y2="286.8" stroke="#222222" stroke-width="1" />
<line x1="469.7" y1="347.18" x2="471.2" y2="347.18" stroke="#222222" stroke-width="1" />
<line x1="469.7" y1="329.93" x2="471.2" y2="329.93" stroke="#222222" stroke-width="1" />
<line x1="469.7" y1="312.68" x2="471.2" y2="312.68" stroke="#222222" stroke-width="1" />
<line x1="469.7" y1="295.43" x2="471.2" y2="295.43" stroke="#222222" stroke-width="1" />
<text x="467.2" y="358.56" font-size="7.9" fill="#000" text-anchor="end" >0</text>
<text x="467.2" y="341.31" font-size="7.9" fill="#000" text-anchor="end" >1</text>
<text x="467.2" y="324.06" font-size="7.9" fill="#000" text-anchor="end" >2</text>
<text x="467.2" y="306.81" font-size="7.9" fill="#000" text-anchor="end" >3</text>
<text x="467.2" y="289.56" font-size="7.9" fill="#000" text-anchor="end" >4</text>
<text x="558.2" y="375.8" font-size="8.3" fill="#000" text-anchor="middle" >k (Å<tspan font-size="5.64" dy="-3.15">−1</tspan><tspan dy="3.15">)</tspan></text>
<text x="458.8" y="321.3" font-size="8.2" fill="#000" text-anchor="middle" transform="rotate(-90 458.8 321.3)" textLength="34" lengthAdjust="spacingAndGlyphs" >R + α (Å)</text>
<g clip-path="url(#wc1)"><g filter="url(#wf1)"><rect x="450.7" y="-11.2" width="215.5" height="110.3" fill="#0d0d0d"/><rect x="440" y="29" width="240" height="15" fill="#212121"/><ellipse cx="590" cy="37.5" rx="14" ry="2.5" fill="#121212"/><ellipse cx="520" cy="24" rx="30" ry="4" fill="#1a1a1a"/><ellipse cx="607.5" cy="25.5" rx="31" ry="4.8" fill="#2b2b2b" transform="rotate(-5.5 607.5 25.5)"/><path d="M440 47.5 L470.7 47 L495 43.6 L560 42.2 L646.2 41.5 L680 41.5 L680 61.7 L646.2 61.6 L600 61.8 L530 62 L470.7 61.9 L440 61.9Z" fill="#4a4a4a"/><path d="M490.3 64.1 L500 63.2 L530 62.8 L600 62.6 L680 62.6 L680 66.2 L646.2 65.9 L600 65.7 L530 65.2 L500 64.9Z" fill="#3d3d3d"/><path d="M440 51.5 L470.7 51.3 L490 48.4 L510 46.3 L560 45.2 L620 44.6 L680 44.5 L680 56.5 L646.2 56.4 L612 57.5 L600 58.3 L560 58.7 L470.7 58.2 L440 58.2Z" fill="#737373"/><ellipse cx="632" cy="56.4" rx="15" ry="1.5" fill="#4c4c4c"/><path d="M484.2 53.6C484.87 52.32 490.7 50.4 500 49.4C509.3 48.4 526.67 48.02 540 47.6C553.33 47.18 566.67 47.05 580 46.9C593.33 46.75 610.25 46.23 620 46.7C629.75 47.17 638.5 48.72 638.5 49.7C638.5 50.68 628.08 51.72 620 52.6C611.92 53.48 600 54.32 590 55C580 55.68 571.67 56.32 560 56.7C548.33 57.08 530.67 57.23 520 57.3C509.33 57.37 501.97 57.72 496 57.1C490.03 56.48 483.53 54.88 484.2 53.6Z" fill="#999999"/><path d="M502 52.9C502 52 510.33 50.83 520 50.2C529.67 49.57 546.67 49.38 560 49.1C573.33 48.82 590.07 48.38 600 48.5C609.93 48.62 619.6 49.28 619.6 49.8C619.6 50.32 609.93 50.72 600 51.6C590.07 52.48 573.33 54.43 560 55.1C546.67 55.77 529.67 55.97 520 55.6C510.33 55.23 502 53.8 502 52.9Z" fill="#c2c2c2"/><path d="M520.1 52.5C521.77 51.88 531.68 51.02 540 50.6C548.32 50.18 560.12 50.03 570 50C579.88 49.97 597.63 50 599.3 50.4C600.97 50.8 588.22 51.75 580 52.4C571.78 53.05 558.33 53.98 550 54.3C541.67 54.62 534.98 54.6 530 54.3C525.02 54 518.43 53.12 520.1 52.5Z" fill="#ebebeb"/><ellipse cx="557" cy="52" rx="10" ry="1.2" fill="#ffffff"/></g><ellipse cx="607.5" cy="25.5" rx="30.5" ry="4.7" fill="none" stroke="#3c413c" stroke-width="0.6" transform="rotate(-5.5 607.5 25.5)"/><path d="M470.7 47C474.75 46.43 480.12 44.4 495 43.6C509.88 42.8 534.8 42.55 560 42.2C585.2 41.85 631.83 41.62 646.2 41.5" fill="none" stroke="#3c413c" stroke-width="0.6"/><path d="M646.2 61.6C638.5 61.63 619.37 61.73 600 61.8C580.63 61.87 551.55 61.98 530 62C508.45 62.02 480.58 61.92 470.7 61.9" fill="none" stroke="#3c413c" stroke-width="0.6"/><path d="M470.7 51.3C473.92 50.82 483.45 49.23 490 48.4C496.55 47.57 498.33 46.83 510 46.3C521.67 45.77 541.67 45.48 560 45.2C578.33 44.92 610 44.7 620 44.6" fill="none" stroke="#3c413c" stroke-width="0.6"/><path d="M612 57.5C610 57.63 608.67 58.1 600 58.3C591.33 58.5 581.55 58.72 560 58.7C538.45 58.68 485.58 58.28 470.7 58.2" fill="none" stroke="#3c413c" stroke-width="0.6"/><path d="M646.2 65.9C638.5 65.87 619.37 65.82 600 65.7C580.63 65.58 546.67 65.33 530 65.2C513.33 65.07 506.62 65.08 500 64.9C493.38 64.72 491.92 64.23 490.3 64.1" fill="none" stroke="#3c413c" stroke-width="0.6"/><ellipse cx="632" cy="56.4" rx="14.5" ry="1.4" fill="none" stroke="#3c413c" stroke-width="0.6"/><path d="M484.2 53.6C484.87 52.32 490.7 50.4 500 49.4C509.3 48.4 526.67 48.02 540 47.6C553.33 47.18 566.67 47.05 580 46.9C593.33 46.75 610.25 46.23 620 46.7C629.75 47.17 638.5 48.72 638.5 49.7C638.5 50.68 628.08 51.72 620 52.6C611.92 53.48 600 54.32 590 55C580 55.68 571.67 56.32 560 56.7C548.33 57.08 530.67 57.23 520 57.3C509.33 57.37 501.97 57.72 496 57.1C490.03 56.48 483.53 54.88 484.2 53.6Z" fill="none" stroke="#3c413c" stroke-width="0.6"/><path d="M502 52.9C502 52 510.33 50.83 520 50.2C529.67 49.57 546.67 49.38 560 49.1C573.33 48.82 590.07 48.38 600 48.5C609.93 48.62 619.6 49.28 619.6 49.8C619.6 50.32 609.93 50.72 600 51.6C590.07 52.48 573.33 54.43 560 55.1C546.67 55.77 529.67 55.97 520 55.6C510.33 55.23 502 53.8 502 52.9Z" fill="none" stroke="#3c413c" stroke-width="0.6"/><path d="M520.1 52.5C521.77 51.88 531.68 51.02 540 50.6C548.32 50.18 560.12 50.03 570 50C579.88 49.97 597.63 50 599.3 50.4C600.97 50.8 588.22 51.75 580 52.4C571.78 53.05 558.33 53.98 550 54.3C541.67 54.62 534.98 54.6 530 54.3C525.02 54 518.43 53.12 520.1 52.5Z" fill="none" stroke="#3c413c" stroke-width="0.6"/><ellipse cx="557" cy="52" rx="7" ry="0.9" fill="none" stroke="#3c413c" stroke-width="0.6"/></g>
<rect x="656.2" y="7.9" width="15.5" height="76" fill="url(#cbg4)" stroke="#333" stroke-width="0.9"/>
<line x1="671.7" y1="13.2" x2="673.7" y2="13.2" stroke="#333" stroke-width="0.9" />
<text x="675.2" y="15.8" font-size="7.4" fill="#000" >3</text>
<line x1="671.7" y1="24.71" x2="673.7" y2="24.71" stroke="#333" stroke-width="0.9" />
<text x="675.2" y="27.31" font-size="7.4" fill="#000" >2.5</text>
<line x1="671.7" y1="36.23" x2="673.7" y2="36.23" stroke="#333" stroke-width="0.9" />
<text x="675.2" y="38.83" font-size="7.4" fill="#000" >2</text>
<line x1="671.7" y1="47.74" x2="673.7" y2="47.74" stroke="#333" stroke-width="0.9" />
<text x="675.2" y="50.34" font-size="7.4" fill="#000" >1.5</text>
<line x1="671.7" y1="59.26" x2="673.7" y2="59.26" stroke="#333" stroke-width="0.9" />
<text x="675.2" y="61.86" font-size="7.4" fill="#000" >1</text>
<line x1="671.7" y1="70.77" x2="673.7" y2="70.77" stroke="#333" stroke-width="0.9" />
<text x="675.2" y="73.37" font-size="7.4" fill="#000" >0.5</text>
<line x1="671.7" y1="82.29" x2="673.7" y2="82.29" stroke="#333" stroke-width="0.9" />
<text x="675.2" y="84.89" font-size="7.4" fill="#000" >0</text>
<text x="662.35" y="5" font-size="7.4" fill="#000" text-anchor="middle" textLength="27" lengthAdjust="spacingAndGlyphs" >Intensity</text>
<text x="476.8" y="20.5" font-size="9" fill="#ffffff" textLength="55" lengthAdjust="spacingAndGlyphs" >Ni<tspan font-size="6.12" dy="2.52">0.66</tspan><tspan dy="-2.52">-W</tspan><tspan font-size="6.12" dy="2.52">18</tspan><tspan dy="-2.52">O</tspan><tspan font-size="6.12" dy="2.52">49</tspan></text>
<text x="561" y="36.2" font-size="10.6" fill="#ffffff" text-anchor="middle" >Ni-O</text>
<line x1="557.8" y1="44.9" x2="557.8" y2="76.2" stroke="#ffffff" stroke-width="1.15" stroke-dasharray="4.5 1.8"/>
<g clip-path="url(#wc2)"><g filter="url(#wf2)"><rect x="450.6" y="81.2" width="215.1" height="109.2" fill="#0f0f0f"/><rect x="440" y="150" width="240" height="8" fill="#2e2e2e"/><path d="M440 133 L470.6 132.5 C480 129 486 124 492 119 C505 113 520 110 535 105 C548 101 560 99 570 95 L570 80 L680 80 L680 160 L440 160 Z" fill="#303030"/><path d="M440 141 L470.6 140.3C472.42 139.65 477.65 137.52 481.5 136.4C485.35 135.28 491.37 134.4 493.7 133.6C496.03 132.8 496.35 132.47 495.5 131.6C494.65 130.73 489.35 129.52 488.6 128.4C487.85 127.28 488.8 125.93 491 124.9C493.2 123.87 497.73 123.13 501.8 122.2C505.87 121.27 510.88 120.57 515.4 119.3C519.92 118.03 524.4 116.07 528.9 114.6C533.4 113.13 538.12 111.4 542.4 110.5C546.68 109.6 550.08 109.65 554.6 109.2C559.12 108.75 566 108.57 569.5 107.8C573 107.03 574.23 105.7 575.6 104.6C576.97 103.5 577.35 101.77 577.7 101.2 L577.7 80 L680 80 L680 147 L646.2 147 C625 147.5 612 147.2 610 148 C608.5 148.8 608.6 150 607.4 150.3 C590 151 570 151.5 556 151.8 C520 152.5 490 153.2 470.6 153.2 L440 153.2 Z" fill="#575757"/><ellipse cx="589.5" cy="111.7" rx="13.2" ry="3.6" fill="#242424"/><path d="M680 95 L646.2 95 L646.2 103 L646.2 103C643.5 103.92 633.27 106.92 630 108.5C626.73 110.08 626.27 111 626.6 112.5C626.93 114 629.6 115.67 632 117.5C634.4 119.33 639.67 121.58 641 123.5C642.33 125.42 639.13 127.72 640 129C640.87 130.28 645.17 130.83 646.2 131.2 L680 131.2 Z" fill="#262626"/><path d="M513.3 134.3C513.3 133.67 525.55 132.87 540 132.6C554.45 132.33 582.33 132.43 600 132.7C617.67 132.97 636 133.88 646 134.2C656 134.52 660 134.2 660 134.6C660 135 656 136.22 646 136.6C636 136.98 617.67 136.93 600 136.9C582.33 136.87 554.45 136.83 540 136.4C525.55 135.97 513.3 134.93 513.3 134.3Z" fill="#0a0a0a"/><path d="M511.3 126.1C511.3 124.77 515.78 123.22 522.1 121.6C528.42 119.98 538.72 117.2 549.2 116.4C559.68 115.6 574.85 116.43 585 116.8C595.15 117.17 603.43 117.38 610.1 118.6C616.77 119.82 625.02 122.4 625 124.1C624.98 125.8 619.17 127.75 610 128.8C600.83 129.85 580.13 130.12 570 130.4C559.87 130.68 557.18 130.63 549.2 130.5C541.22 130.37 528.42 130.33 522.1 129.6C515.78 128.87 511.3 127.43 511.3 126.1Z" fill="#858585"/><path d="M531.6 125.4C531.6 124.2 535.73 121.7 543.8 120.8C551.87 119.9 569.28 119.45 580 120C590.72 120.55 608.1 122.83 608.1 124.1C608.1 125.37 590.72 126.95 580 127.6C569.28 128.25 551.87 128.37 543.8 128C535.73 127.63 531.6 126.6 531.6 125.4Z" fill="#b8b8b8"/><path d="M538.4 124C538.4 123.27 549.73 122.25 555 121.9C560.27 121.55 564.98 121.53 570 121.9C575.02 122.27 585.1 123.42 585.1 124.1C585.1 124.78 575.02 125.63 570 126C564.98 126.37 560.27 126.63 555 126.3C549.73 125.97 538.4 124.73 538.4 124Z" fill="#ededed"/><path d="M474.1 145.7C474.1 144.35 480.3 142.32 488.3 141.1C496.3 139.88 503.48 138.75 522.1 138.4C540.72 138.05 581.05 138.35 600 139C618.95 139.65 635.8 141.05 635.8 142.3C635.8 143.55 618.95 145.15 600 146.5C581.05 147.85 540.72 149.95 522.1 150.4C503.48 150.85 496.3 149.98 488.3 149.2C480.3 148.42 474.1 147.05 474.1 145.7Z" fill="#858585"/><path d="M499.1 145C499.1 143.93 500.25 142.57 515.4 141.8C530.55 141.03 574.22 140.25 590 140.4C605.78 140.55 610.1 141.92 610.1 142.7C610.1 143.48 605.78 144.18 590 145.1C574.22 146.02 530.55 148.22 515.4 148.2C500.25 148.18 499.1 146.07 499.1 145Z" fill="#b8b8b8"/><path d="M526.2 144.1C526.2 143.5 535.93 142.7 542.4 142.4C548.87 142.1 558.67 142.15 565 142.3C571.33 142.45 580.4 142.8 580.4 143.3C580.4 143.8 571.33 144.85 565 145.3C558.67 145.75 548.87 146.2 542.4 146C535.93 145.8 526.2 144.7 526.2 144.1Z" fill="#ededed"/><ellipse cx="560" cy="155.5" rx="90" ry="1.2" fill="#3d3d3d"/></g><path d="M470.6 140.3C472.42 139.65 477.65 137.52 481.5 136.4C485.35 135.28 491.37 134.4 493.7 133.6C496.03 132.8 496.35 132.47 495.5 131.6C494.65 130.73 489.35 129.52 488.6 128.4C487.85 127.28 488.8 125.93 491 124.9C493.2 123.87 497.73 123.13 501.8 122.2C505.87 121.27 510.88 120.57 515.4 119.3C519.92 118.03 524.4 116.07 528.9 114.6C533.4 113.13 538.12 111.4 542.4 110.5C546.68 109.6 550.08 109.65 554.6 109.2C559.12 108.75 566 108.57 569.5 107.8C573 107.03 574.23 105.7 575.6 104.6C576.97 103.5 577.35 101.77 577.7 101.2" fill="none" stroke="#3c413c" stroke-width="0.6"/><path d="M646.2 147C640.17 147.17 616.47 147.45 610 148C603.53 148.55 616.4 149.67 607.4 150.3C598.4 150.93 578.8 151.32 556 151.8C533.2 152.28 484.83 152.97 470.6 153.2" fill="none" stroke="#3c413c" stroke-width="0.6"/><path d="M646.2 103C643.5 103.92 633.27 106.92 630 108.5C626.73 110.08 626.27 111 626.6 112.5C626.93 114 629.6 115.67 632 117.5C634.4 119.33 639.67 121.58 641 123.5C642.33 125.42 639.13 127.72 640 129C640.87 130.28 645.17 130.83 646.2 131.2" fill="none" stroke="#3c413c" stroke-width="0.6"/><ellipse cx="589.5" cy="111.7" rx="13.2" ry="3.6" fill="none" stroke="#3c413c" stroke-width="0.6"/><path d="M513.3 134.3C513.3 133.67 525.55 132.87 540 132.6C554.45 132.33 582.33 132.43 600 132.7C617.67 132.97 636 133.88 646 134.2C656 134.52 660 134.2 660 134.6C660 135 656 136.22 646 136.6C636 136.98 617.67 136.93 600 136.9C582.33 136.87 554.45 136.83 540 136.4C525.55 135.97 513.3 134.93 513.3 134.3Z" fill="none" stroke="#3c413c" stroke-width="0.6"/><path d="M511.3 126.1C511.3 124.77 515.78 123.22 522.1 121.6C528.42 119.98 538.72 117.2 549.2 116.4C559.68 115.6 574.85 116.43 585 116.8C595.15 117.17 603.43 117.38 610.1 118.6C616.77 119.82 625.02 122.4 625 124.1C624.98 125.8 619.17 127.75 610 128.8C600.83 129.85 580.13 130.12 570 130.4C559.87 130.68 557.18 130.63 549.2 130.5C541.22 130.37 528.42 130.33 522.1 129.6C515.78 128.87 511.3 127.43 511.3 126.1Z" fill="none" stroke="#3c413c" stroke-width="0.6"/><path d="M531.6 125.4C531.6 124.2 535.73 121.7 543.8 120.8C551.87 119.9 569.28 119.45 580 120C590.72 120.55 608.1 122.83 608.1 124.1C608.1 125.37 590.72 126.95 580 127.6C569.28 128.25 551.87 128.37 543.8 128C535.73 127.63 531.6 126.6 531.6 125.4Z" fill="none" stroke="#3c413c" stroke-width="0.6"/><path d="M538.4 124C538.4 123.27 549.73 122.25 555 121.9C560.27 121.55 564.98 121.53 570 121.9C575.02 122.27 585.1 123.42 585.1 124.1C585.1 124.78 575.02 125.63 570 126C564.98 126.37 560.27 126.63 555 126.3C549.73 125.97 538.4 124.73 538.4 124Z" fill="none" stroke="#3c413c" stroke-width="0.6"/><path d="M474.1 145.7C474.1 144.35 480.3 142.32 488.3 141.1C496.3 139.88 503.48 138.75 522.1 138.4C540.72 138.05 581.05 138.35 600 139C618.95 139.65 635.8 141.05 635.8 142.3C635.8 143.55 618.95 145.15 600 146.5C581.05 147.85 540.72 149.95 522.1 150.4C503.48 150.85 496.3 149.98 488.3 149.2C480.3 148.42 474.1 147.05 474.1 145.7Z" fill="none" stroke="#3c413c" stroke-width="0.6"/><path d="M499.1 145C499.1 143.93 500.25 142.57 515.4 141.8C530.55 141.03 574.22 140.25 590 140.4C605.78 140.55 610.1 141.92 610.1 142.7C610.1 143.48 605.78 144.18 590 145.1C574.22 146.02 530.55 148.22 515.4 148.2C500.25 148.18 499.1 146.07 499.1 145Z" fill="none" stroke="#3c413c" stroke-width="0.6"/><path d="M526.2 144.1C526.2 143.5 535.93 142.7 542.4 142.4C548.87 142.1 558.67 142.15 565 142.3C571.33 142.45 580.4 142.8 580.4 143.3C580.4 143.8 571.33 144.85 565 145.3C558.67 145.75 548.87 146.2 542.4 146C535.93 145.8 526.2 144.7 526.2 144.1Z" fill="none" stroke="#3c413c" stroke-width="0.6"/></g>
<rect x="655.8" y="99.8" width="15.9" height="75.6" fill="url(#cbg7)" stroke="#333" stroke-width="0.9"/>
<line x1="671.7" y1="100.68" x2="673.7" y2="100.68" stroke="#333" stroke-width="0.9" />
<text x="675.2" y="103.28" font-size="7.4" fill="#000" >2.5</text>
<line x1="671.7" y1="115.39" x2="673.7" y2="115.39" stroke="#333" stroke-width="0.9" />
<text x="675.2" y="117.99" font-size="7.4" fill="#000" >2</text>
<line x1="671.7" y1="130.1" x2="673.7" y2="130.1" stroke="#333" stroke-width="0.9" />
<text x="675.2" y="132.7" font-size="7.4" fill="#000" >1.5</text>
<line x1="671.7" y1="144.81" x2="673.7" y2="144.81" stroke="#333" stroke-width="0.9" />
<text x="675.2" y="147.41" font-size="7.4" fill="#000" >1</text>
<line x1="671.7" y1="159.52" x2="673.7" y2="159.52" stroke="#333" stroke-width="0.9" />
<text x="675.2" y="162.12" font-size="7.4" fill="#000" >0.5</text>
<line x1="671.7" y1="174.22" x2="673.7" y2="174.22" stroke="#333" stroke-width="0.9" />
<text x="675.2" y="176.82" font-size="7.4" fill="#000" >0</text>
<text x="662.15" y="96.5" font-size="7.4" fill="#000" text-anchor="middle" textLength="27" lengthAdjust="spacingAndGlyphs" >Intensity</text>
<text x="474.2" y="112.6" font-size="10.2" fill="#ffffff" textLength="52" lengthAdjust="spacingAndGlyphs" >Ni<tspan font-size="6.94" dy="2.86">1.4</tspan><tspan dy="-2.86">-W</tspan><tspan font-size="6.94" dy="2.86">18</tspan><tspan dy="-2.86">O</tspan><tspan font-size="6.94" dy="2.86">49</tspan></text>
<line x1="557.9" y1="101.2" x2="557.9" y2="152.8" stroke="#ffffff" stroke-width="1.15" stroke-dasharray="4.5 1.8"/>
<line x1="588.1" y1="107.6" x2="588.1" y2="170.4" stroke="#ffffff" stroke-width="1.15" stroke-dasharray="4.5 1.8"/>
<g clip-path="url(#wc3)"><g filter="url(#wf3)"><rect x="450.6" y="173.5" width="214" height="109.3" fill="#0d0d0d"/><ellipse cx="520" cy="219.8" rx="38" ry="4.2" fill="#383838"/><ellipse cx="535" cy="236.8" rx="50" ry="4" fill="#2e2e2e"/><path d="M542 206 C550 202 565 203 580 205 C600 205.5 630 206 680 207 L680 214 L555 214 C548 212 542 209 542 206 Z" fill="#424242"/><path d="M540 227 C555 224 600 224 680 224 L680 231 L600 231 C560 231 545 229 540 227 Z" fill="#1f1f1f"/><path d="M530 180 L530 193.5 C550 198 565 203.5 600 204 C630 204.5 650 205 680 205 L680 180 Z" fill="#5c5c5c"/><ellipse cx="583" cy="206" rx="17" ry="3.4" fill="#242424"/><ellipse cx="633" cy="204.9" rx="18" ry="4.3" fill="#242424"/><ellipse cx="618" cy="227.3" rx="30" ry="2.8" fill="#1a1a1a"/><ellipse cx="560" cy="235.2" rx="58" ry="6" fill="#333333"/><path d="M520.5 236.1C520.5 235.27 529.78 234.03 535.7 233.4C541.62 232.77 548.62 232.73 556 232.3C563.38 231.87 571.77 230.75 580 230.8C588.23 230.85 605.4 231.67 605.4 232.6C605.4 233.53 588.23 235.37 580 236.4C571.77 237.43 563.38 238.47 556 238.8C548.62 239.13 541.62 238.85 535.7 238.4C529.78 237.95 520.5 236.93 520.5 236.1Z" fill="#4c4c4c"/><path d="M680 211.5C674.33 211.47 659.33 211.45 646 211.3C632.67 211.15 613.33 211.08 600 210.6C586.67 210.12 573.33 208.72 566 208.4C558.67 208.08 561.05 207.92 556 208.7C550.95 209.48 541.35 211.87 535.7 213.1C530.05 214.33 526.5 214.82 522.1 216.1C517.7 217.38 509.3 219.4 509.3 220.8C509.3 222.2 516.58 223.67 522.1 224.5C527.62 225.33 536.75 225.52 542.4 225.8C548.05 226.08 546.4 226.43 556 226.2C565.6 225.97 585 224.7 600 224.4C615 224.1 632.67 224.38 646 224.4C659.33 224.42 674.33 224.48 680 224.5Z" fill="#808080"/><path d="M680 213.5C674.33 213.48 659.33 213.45 646 213.4C632.67 213.35 615 213.13 600 213.2C585 213.27 565.37 213.43 556 213.8C546.63 214.17 547.42 214.38 543.8 215.4C540.18 216.42 534.3 218.67 534.3 219.9C534.3 221.13 540.18 222.2 543.8 222.8C547.42 223.4 546.63 223.58 556 223.5C565.37 223.42 585 222.63 600 222.3C615 221.97 632.67 221.63 646 221.5C659.33 221.37 674.33 221.5 680 221.5Z" fill="#b8b8b8"/><path d="M557.5 217.8C557.5 216.67 567.92 215.12 575 214.5C582.08 213.88 591.78 213.57 600 214.1C608.22 214.63 624.3 216.52 624.3 217.7C624.3 218.88 608.22 220.6 600 221.2C591.78 221.8 582.08 221.87 575 221.3C567.92 220.73 557.5 218.93 557.5 217.8Z" fill="#f2f2f2"/></g><path d="M680 211.5C674.33 211.47 659.33 211.45 646 211.3C632.67 211.15 613.33 211.08 600 210.6C586.67 210.12 573.33 208.72 566 208.4C558.67 208.08 561.05 207.92 556 208.7C550.95 209.48 541.35 211.87 535.7 213.1C530.05 214.33 526.5 214.82 522.1 216.1C517.7 217.38 509.3 219.4 509.3 220.8C509.3 222.2 516.58 223.67 522.1 224.5C527.62 225.33 536.75 225.52 542.4 225.8C548.05 226.08 546.4 226.43 556 226.2C565.6 225.97 585 224.7 600 224.4C615 224.1 632.67 224.38 646 224.4C659.33 224.42 674.33 224.48 680 224.5" fill="none" stroke="#3c413c" stroke-width="0.6"/><path d="M680 213.5C674.33 213.48 659.33 213.45 646 213.4C632.67 213.35 615 213.13 600 213.2C585 213.27 565.37 213.43 556 213.8C546.63 214.17 547.42 214.38 543.8 215.4C540.18 216.42 534.3 218.67 534.3 219.9C534.3 221.13 540.18 222.2 543.8 222.8C547.42 223.4 546.63 223.58 556 223.5C565.37 223.42 585 222.63 600 222.3C615 221.97 632.67 221.63 646 221.5C659.33 221.37 674.33 221.5 680 221.5" fill="none" stroke="#3c413c" stroke-width="0.6"/><path d="M557.5 217.8C557.5 216.67 567.92 215.12 575 214.5C582.08 213.88 591.78 213.57 600 214.1C608.22 214.63 624.3 216.52 624.3 217.7C624.3 218.88 608.22 220.6 600 221.2C591.78 221.8 582.08 221.87 575 221.3C567.92 220.73 557.5 218.93 557.5 217.8Z" fill="none" stroke="#3c413c" stroke-width="0.6"/><path d="M520.5 236.1C520.5 235.27 529.78 234.03 535.7 233.4C541.62 232.77 548.62 232.73 556 232.3C563.38 231.87 571.77 230.75 580 230.8C588.23 230.85 605.4 231.67 605.4 232.6C605.4 233.53 588.23 235.37 580 236.4C571.77 237.43 563.38 238.47 556 238.8C548.62 239.13 541.62 238.85 535.7 238.4C529.78 237.95 520.5 236.93 520.5 236.1Z" fill="none" stroke="#3c413c" stroke-width="0.6"/><ellipse cx="583" cy="206" rx="16.6" ry="3.4" fill="none" stroke="#3c413c" stroke-width="0.6"/><ellipse cx="633" cy="204.9" rx="17" ry="4.3" fill="none" stroke="#3c413c" stroke-width="0.6"/><path d="M558.7 193.5C559.25 194.25 560.7 196.48 562 198C563.3 199.52 564.33 201.83 566.5 202.6C568.67 203.37 573.58 202.6 575 202.6" fill="none" stroke="#3c413c" stroke-width="0.6"/><path d="M635.8 193.5C636.67 193.92 639.53 195.2 641 196C642.47 196.8 644 197.92 644.6 198.3" fill="none" stroke="#3c413c" stroke-width="0.6"/></g>
<rect x="655" y="193.2" width="15.8" height="72.8" fill="url(#cbg10)" stroke="#333" stroke-width="0.9"/>
<line x1="670.8" y1="194.86" x2="672.8" y2="194.86" stroke="#333" stroke-width="0.9" />
<text x="674.3" y="197.46" font-size="7.4" fill="#000" >8</text>
<line x1="670.8" y1="212.34" x2="672.8" y2="212.34" stroke="#333" stroke-width="0.9" />
<text x="674.3" y="214.94" font-size="7.4" fill="#000" >6</text>
<line x1="670.8" y1="229.82" x2="672.8" y2="229.82" stroke="#333" stroke-width="0.9" />
<text x="674.3" y="232.42" font-size="7.4" fill="#000" >4</text>
<line x1="670.8" y1="247.3" x2="672.8" y2="247.3" stroke="#333" stroke-width="0.9" />
<text x="674.3" y="249.9" font-size="7.4" fill="#000" >2</text>
<line x1="670.8" y1="264.78" x2="672.8" y2="264.78" stroke="#333" stroke-width="0.9" />
<text x="674.3" y="267.38" font-size="7.4" fill="#000" >0</text>
<text x="661.3" y="189.5" font-size="7.4" fill="#000" text-anchor="middle" textLength="27" lengthAdjust="spacingAndGlyphs" >Intensity</text>
<text x="476.3" y="206" font-size="9.5" fill="#ffffff" >NiO</text>
<line x1="557.9" y1="193.5" x2="557.9" y2="246.1" stroke="#ffffff" stroke-width="1.15" stroke-dasharray="4.5 1.8"/>
<line x1="588.1" y1="201" x2="588.1" y2="262.8" stroke="#ffffff" stroke-width="1.15" stroke-dasharray="4.5 1.8"/>
<g clip-path="url(#wc4)"><g filter="url(#wf4)"><rect x="451.2" y="266.8" width="213.4" height="109" fill="#0d0d0d"/><ellipse cx="577" cy="286" rx="24" ry="9" fill="#666666"/><ellipse cx="512" cy="320" rx="42" ry="8" fill="#262626"/><ellipse cx="570" cy="300" rx="40" ry="6" fill="#1a1a1a"/><ellipse cx="625" cy="296" rx="22" ry="6" fill="#212121"/><ellipse cx="590" cy="317.4" rx="79" ry="8.4" fill="#5c5c5c" transform="rotate(-1.8 590 317.4)"/><ellipse cx="587.5" cy="318.1" rx="53" ry="5.6" fill="#999999" transform="rotate(-0.8 587.5 318.1)"/><ellipse cx="587.5" cy="318.1" rx="32" ry="2.9" fill="#ededed"/><ellipse cx="585" cy="318.1" rx="12" ry="1.5" fill="#ffffff"/></g><path d="M554.3 286.8 C558 294 570 296 577 295.8 C586 295.6 596 293 599.5 286.8" fill="none" stroke="#3c413c" stroke-width="0.6"/><ellipse cx="590" cy="317.4" rx="79" ry="8.4" fill="none" stroke="#3c413c" stroke-width="0.6" transform="rotate(-1.8 590 317.4)"/><ellipse cx="587.5" cy="318.1" rx="53" ry="5.6" fill="none" stroke="#3c413c" stroke-width="0.6" transform="rotate(-0.8 587.5 318.1)"/><ellipse cx="587.5" cy="318.1" rx="32" ry="2.9" fill="none" stroke="#3c413c" stroke-width="0.6"/></g>
<rect x="655" y="286.2" width="15.8" height="71.1" fill="url(#cbg13)" stroke="#333" stroke-width="0.9"/>
<line x1="670.8" y1="287.62" x2="672.8" y2="287.62" stroke="#333" stroke-width="0.9" />
<text x="674.3" y="290.22" font-size="7.4" fill="#000" >12</text>
<line x1="670.8" y1="304.64" x2="672.8" y2="304.64" stroke="#333" stroke-width="0.9" />
<text x="674.3" y="307.24" font-size="7.4" fill="#000" >9</text>
<line x1="670.8" y1="321.66" x2="672.8" y2="321.66" stroke="#333" stroke-width="0.9" />
<text x="674.3" y="324.26" font-size="7.4" fill="#000" >6</text>
<line x1="670.8" y1="338.69" x2="672.8" y2="338.69" stroke="#333" stroke-width="0.9" />
<text x="674.3" y="341.29" font-size="7.4" fill="#000" >3</text>
<line x1="670.8" y1="355.71" x2="672.8" y2="355.71" stroke="#333" stroke-width="0.9" />
<text x="674.3" y="358.31" font-size="7.4" fill="#000" >0</text>
<text x="661.3" y="281" font-size="7.4" fill="#000" text-anchor="middle" textLength="27" lengthAdjust="spacingAndGlyphs" >Intensity</text>
<text x="475.2" y="296.6" font-size="10" fill="#ffffff" textLength="23.2" lengthAdjust="spacingAndGlyphs" >Ni foil</text>
<text x="586.9" y="347.2" font-size="11" fill="#ffffff" text-anchor="middle" >Ni-Ni</text>
<line x1="588.1" y1="286.8" x2="588.1" y2="329.3" stroke="#ffffff" stroke-width="1.15" stroke-dasharray="4.5 1.8"/>
<path d="M12 148.8C17.4 148.8 38.7 149.2 44.4 148.8C50.1 148.4 45.62 148.2 46.2 146.4C46.78 144.6 47.32 140.82 47.9 138C48.48 135.18 49.08 131.67 49.7 129.5C50.32 127.33 50.87 126.62 51.6 125C52.33 123.38 53.1 122.13 54.1 119.8C55.1 117.47 56.58 114.23 57.6 111C58.62 107.77 59.4 104.23 60.2 100.4C61 96.57 61.75 90.6 62.4 88C63.05 85.4 63.47 85.22 64.1 84.8C64.73 84.38 65.5 85.53 66.2 85.5C66.9 85.47 67.48 85.27 68.3 84.6C69.12 83.93 70.28 82.17 71.1 81.5C71.92 80.83 72.25 80.4 73.2 80.6C74.15 80.8 75.67 82.03 76.8 82.7C77.93 83.37 78.8 84.13 80 84.6C81.2 85.07 82.47 85.93 84 85.5C85.53 85.07 87.15 83.5 89.2 82C91.25 80.5 94.38 77.08 96.3 76.5C98.22 75.92 99.1 77.43 100.7 78.5C102.3 79.57 104 81.93 105.9 82.9C107.8 83.87 110.13 84.1 112.1 84.3C114.07 84.5 114.98 84.77 117.7 84.1C120.42 83.43 125.33 81.7 128.4 80.3C131.47 78.9 133.42 76.9 136.1 75.7C138.78 74.5 141.7 73.1 144.5 73.1C147.3 73.1 149.97 74.5 152.9 75.7C155.83 76.9 159.03 78.95 162.1 80.3C165.17 81.65 168.48 83.67 171.3 83.8C174.12 83.93 176.45 82.02 179 81.1C181.55 80.18 184.05 78.87 186.6 78.3C189.15 77.73 191.73 78.77 194.3 77.7C196.87 76.63 199.18 73.18 202 71.9C204.82 70.62 209.67 70.32 211.2 70" stroke="#707070" stroke-width="1.5" fill="none" stroke-linejoin="round" stroke-linecap="round" />
<path d="M12 148.8C17.83 148.8 40.58 149 47 148.8C53.42 148.6 49.47 148.23 50.5 147.6C51.53 146.97 52.32 146.52 53.2 145C54.08 143.48 55 141.67 55.8 138.5C56.6 135.33 57.3 131.42 58 126C58.7 120.58 59.37 113.67 60 106C60.63 98.33 61.23 89 61.8 80C62.37 71 62.93 59 63.4 52C63.87 45 64.18 41.92 64.6 38C65.02 34.08 65.47 28.83 65.9 28.5C66.33 28.17 66.8 32.75 67.2 36C67.6 39.25 67.9 44.42 68.3 48C68.7 51.58 69.13 54.58 69.6 57.5C70.07 60.42 70.38 62.77 71.1 65.5C71.82 68.23 72.72 71.62 73.9 73.9C75.08 76.18 76.55 77.43 78.2 79.2C79.85 80.97 82.05 82.67 83.8 84.5C85.55 86.33 87.42 88.98 88.7 90.2C89.98 91.42 90.62 91.7 91.5 91.8C92.38 91.9 93.08 91.68 94 90.8C94.92 89.92 95.83 88.3 97 86.5C98.17 84.7 99.37 82.37 101 80C102.63 77.63 104.67 73.9 106.8 72.3C108.93 70.7 112.37 70.82 113.8 70.4C115.23 69.98 113.98 69.55 115.4 69.8C116.82 70.05 119.37 70.78 122.3 71.9C125.23 73.02 129.17 75.23 133 76.5C136.83 77.77 140.7 79.25 145.3 79.5C149.9 79.75 155.5 78.77 160.6 78C165.7 77.23 170.8 75.67 175.9 74.9C181 74.13 185.32 73.52 191.2 73.4C197.08 73.28 207.87 74.07 211.2 74.2" stroke="#e8606a" stroke-width="1.5" fill="none" stroke-linejoin="round" stroke-linecap="round" />
<path d="M12 148.8C17.83 148.8 40.58 149 47 148.8C53.42 148.6 49.47 148.23 50.5 147.6C51.53 146.97 52.32 146.52 53.2 145C54.08 143.48 55 141.67 55.8 138.5C56.6 135.33 57.3 131.42 58 126C58.7 120.58 59.37 113.67 60 106C60.63 98.33 61.23 89 61.8 80C62.37 71 62.9 58.13 63.4 52C63.9 45.87 64.27 44.98 64.8 43.2C65.33 41.42 66.03 40.83 66.6 41.3C67.17 41.77 67.77 43.72 68.2 46C68.63 48.28 68.72 51.38 69.2 55C69.68 58.62 70.2 64.08 71.1 67.7C72 71.32 73.53 74.55 74.6 76.7C75.67 78.85 76.43 80.33 77.5 80.6C78.57 80.87 79.95 78.15 81 78.3C82.05 78.45 82.4 79.82 83.8 81.5C85.2 83.18 88.03 87.07 89.4 88.4C90.77 89.73 91.07 89.65 92 89.5C92.93 89.35 93.67 89.25 95 87.5C96.33 85.75 98.03 81.68 100 79C101.97 76.32 104.5 73.25 106.8 71.4C109.1 69.55 112.1 68.38 113.8 67.9C115.5 67.42 115.58 67.83 117 68.5C118.42 69.17 119.63 70.37 122.3 71.9C124.97 73.43 129.17 76.63 133 77.7C136.83 78.77 140.7 78.55 145.3 78.3C149.9 78.05 155.5 76.5 160.6 76.2C165.7 75.9 170.8 76.83 175.9 76.5C181 76.17 185.32 74.58 191.2 74.2C197.08 73.82 207.87 74.2 211.2 74.2" stroke="#62c4a2" stroke-width="1.5" fill="none" stroke-linejoin="round" stroke-linecap="round" />
<path d="M12 148.8C17.83 148.8 40.58 149.03 47 148.8C53.42 148.57 49.47 148.07 50.5 147.4C51.53 146.73 52.32 146.37 53.2 144.8C54.08 143.23 54.92 141.8 55.8 138C56.68 134.2 57.7 128.5 58.5 122C59.3 115.5 59.9 107.08 60.6 99C61.3 90.92 62.12 80.8 62.7 73.5C63.28 66.2 63.63 59.88 64.1 55.2C64.57 50.52 65.03 47.75 65.5 45.4C65.97 43.05 66.45 41.17 66.9 41.1C67.35 41.03 67.85 43.12 68.2 45C68.55 46.88 68.52 48.82 69 52.4C69.48 55.98 70.28 61.8 71.1 66.5C71.92 71.2 72.95 76.85 73.9 80.6C74.85 84.35 76.08 87.48 76.8 89C77.52 90.52 77.62 90.63 78.2 89.7C78.78 88.77 79.55 85.15 80.3 83.4C81.05 81.65 81.88 79.43 82.7 79.2C83.52 78.97 84.32 80.95 85.2 82C86.08 83.05 87.03 84.45 88 85.5C88.97 86.55 89.62 88.45 91 88.3C92.38 88.15 94.25 86.53 96.3 84.6C98.35 82.67 100.97 79.48 103.3 76.7C105.63 73.92 108.28 69.68 110.3 67.9C112.32 66.12 113.67 65.6 115.4 66C117.13 66.4 118.78 68.3 120.7 70.3C122.62 72.3 124.6 75.95 126.9 78C129.2 80.05 131.95 82.35 134.5 82.6C137.05 82.85 139.38 80.4 142.2 79.5C145.02 78.6 148.77 78.03 151.4 77.2C154.03 76.37 155.97 75.27 158 74.5C160.03 73.73 161.38 72.27 163.6 72.6C165.82 72.93 168.48 75.13 171.3 76.5C174.12 77.87 178.05 80.55 180.5 80.8C182.95 81.05 184.22 79.18 186 78C187.78 76.82 189.37 74.28 191.2 73.7C193.03 73.12 195.2 74.3 197 74.5C198.8 74.7 199.63 75.03 202 74.9C204.37 74.77 209.67 73.9 211.2 73.7" stroke="#f9b256" stroke-width="1.5" fill="none" stroke-linejoin="round" stroke-linecap="round" />
<path d="M240 158.6C241 158.6 244 158.7 246 158.6C248 158.5 250.02 157.9 252 158C253.98 158.1 255.92 159.3 257.9 159.2C259.88 159.1 262.1 157.8 263.9 157.4C265.7 157 267.2 156.8 268.7 156.8C270.2 156.8 271.3 157.63 272.9 157.4C274.5 157.17 276.8 155.6 278.3 155.4C279.8 155.2 280.82 155.57 281.9 156.2C282.98 156.83 283.82 160 284.8 159.2C285.78 158.4 286.7 153.5 287.8 151.4C288.9 149.3 290.3 147.6 291.4 146.6C292.5 145.6 293.4 145.83 294.4 145.4C295.4 144.97 296.5 145.58 297.4 144C298.3 142.42 299.1 140.05 299.8 135.9C300.5 131.75 301.02 125.08 301.6 119.1C302.18 113.12 302.45 108.95 303.3 100C304.15 91.05 305.75 73.52 306.7 65.4C307.65 57.28 308.15 54.62 309 51.3C309.85 47.98 310.83 45.5 311.8 45.5C312.77 45.5 313.72 46.05 314.8 51.3C315.88 56.55 317.12 66.88 318.3 77C319.48 87.12 320.72 101.1 321.9 112C323.08 122.9 324.23 135 325.4 142.4C326.57 149.8 327.35 154.65 328.9 156.4C330.45 158.15 332.57 154.45 334.7 152.9C336.83 151.35 339.98 148.4 341.7 147.1C343.42 145.8 343.53 146.07 345 145.1C346.47 144.13 348.42 141.47 350.5 141.3C352.58 141.13 355.65 144.75 357.5 144.1C359.35 143.45 359.98 140.93 361.6 137.4C363.22 133.87 365.35 126.13 367.2 122.9C369.05 119.67 370.97 117.88 372.7 118C374.43 118.12 375.98 121.75 377.6 123.6C379.22 125.45 380.9 128.07 382.4 129.1C383.9 130.13 385.2 130.15 386.6 129.8C388 129.45 389.53 127.57 390.8 127C392.07 126.43 392.82 125.82 394.2 126.4C395.58 126.98 397.58 128.2 399.1 130.5C400.62 132.8 401.68 136.73 403.3 140.2C404.92 143.67 406.97 148.87 408.8 151.3C410.63 153.73 412.22 153.92 414.3 154.8C416.38 155.68 419.22 156.25 421.3 156.6C423.38 156.95 425.18 157.08 426.8 156.9C428.42 156.72 429.6 155.85 431 155.5C432.4 155.15 434.5 154.92 435.2 154.8" stroke="#707070" stroke-width="1.5" fill="none" stroke-linejoin="round" stroke-linecap="round" />
<path d="M240 156.2C240.8 156.37 243 156.97 244.8 157.2C246.6 157.43 249.02 157.97 250.8 157.6C252.58 157.23 253.72 155.98 255.5 155C257.28 154.02 259.5 152.53 261.5 151.7C263.5 150.87 265.5 150.85 267.5 150C269.5 149.15 271.7 148.05 273.5 146.6C275.3 145.15 276.72 143.68 278.3 141.3C279.88 138.92 281.42 134.9 283 132.3C284.58 129.7 286.4 127.2 287.8 125.7C289.2 124.2 290.1 123.3 291.4 123.3C292.7 123.3 294.2 123.8 295.6 125.7C297 127.6 298.5 131.22 299.8 134.7C301.1 138.18 302.3 143.02 303.4 146.6C304.5 150.18 305.4 154.3 306.4 156.2C307.4 158.1 308.3 157.8 309.4 158C310.5 158.2 311.82 157.33 313 157.4C314.18 157.47 315.22 158.53 316.5 158.4C317.78 158.27 319.03 157.13 320.7 156.6C322.37 156.07 324.55 155.23 326.5 155.2C328.45 155.17 330.25 156.08 332.4 156.4C334.55 156.72 337.3 156.75 339.4 157.1C341.5 157.45 342.92 157.97 345 158.5C347.08 159.03 349.58 160.33 351.9 160.3C354.22 160.27 356.82 158.42 358.9 158.3C360.98 158.18 362.55 159.15 364.4 159.6C366.25 160.05 367.92 160.65 370 161C372.08 161.35 374.6 161.93 376.9 161.7C379.2 161.47 381.03 159.6 383.8 159.6C386.57 159.6 390.48 161.47 393.5 161.7C396.52 161.93 398.43 161.23 401.9 161C405.37 160.77 410.83 160.3 414.3 160.3C417.77 160.3 419.22 160.93 422.7 161C426.18 161.07 433.12 160.75 435.2 160.7" stroke="#e8606a" stroke-width="1.5" fill="none" stroke-linejoin="round" stroke-linecap="round" />
<path d="M240 159.2C241.2 159.3 244.8 159.9 247.2 159.8C249.6 159.7 252.02 159.3 254.4 158.6C256.78 157.9 258.92 156.6 261.5 155.6C264.08 154.6 267.3 153.6 269.9 152.6C272.5 151.6 274.92 151.2 277.1 149.6C279.28 148 281.32 145.28 283 143C284.68 140.72 285.9 137.48 287.2 135.9C288.5 134.32 289.6 133.3 290.8 133.5C292 133.7 293.1 135.02 294.4 137.1C295.7 139.18 297.3 143.42 298.6 146C299.9 148.58 301 150.9 302.2 152.6C303.4 154.3 304.4 155.3 305.8 156.2C307.2 157.1 309.2 157.83 310.6 158C312 158.17 312.92 158.37 314.2 157.2C315.48 156.03 317.02 153.67 318.3 151C319.58 148.33 320.72 143.6 321.9 141.2C323.08 138.8 324.23 136.78 325.4 136.6C326.57 136.42 327.73 137.58 328.9 140.1C330.07 142.62 331.05 148.6 332.4 151.7C333.75 154.8 335.07 156.95 337 158.7C338.93 160.45 341.67 161.98 344 162.2C346.33 162.42 348.75 160.77 351 160C353.25 159.23 355.5 157.43 357.5 157.6C359.5 157.77 361.27 160.2 363 161C364.73 161.8 365.7 162.9 367.9 162.4C370.1 161.9 373.55 158.42 376.2 158C378.85 157.58 381.13 159.4 383.8 159.9C386.47 160.4 389.42 161 392.2 161C394.98 161 397.97 159.78 400.5 159.9C403.03 160.02 405.32 161.05 407.4 161.7C409.48 162.35 410.68 163.73 413 163.8C415.32 163.87 417.6 162.45 421.3 162.1C425 161.75 432.88 161.77 435.2 161.7" stroke="#62c4a2" stroke-width="1.5" fill="none" stroke-linejoin="round" stroke-linecap="round" />
<path d="M240 160.4C241.2 160.3 245 159.9 247.2 159.8C249.4 159.7 251.42 160.1 253.2 159.8C254.98 159.5 256.12 158.2 257.9 158C259.68 157.8 262.3 159.1 263.9 158.6C265.5 158.1 266.3 156.3 267.5 155C268.7 153.7 269.5 152 271.1 150.8C272.7 149.6 275.12 149.48 277.1 147.8C279.08 146.12 281.02 142.98 283 140.7C284.98 138.42 287.4 136.1 289 134.1C290.6 132.1 291.53 129.9 292.6 128.7C293.67 127.5 294.4 126.5 295.4 126.9C296.4 127.3 297.47 128.6 298.6 131.1C299.73 133.6 301.23 138.25 302.2 141.9C303.17 145.55 303.88 149.9 304.4 153C304.92 156.1 304.87 160.57 305.3 160.5C305.73 160.43 306.32 154.72 307 152.6C307.68 150.48 308.4 149.2 309.4 147.8C310.4 146.4 312.02 146.18 313 144.2C313.98 142.22 314.57 140.77 315.3 135.9C316.03 131.03 316.5 122.67 317.4 115C318.3 107.33 319.48 95.83 320.7 89.9C321.92 83.97 323.53 79.6 324.7 79.4C325.87 79.2 326.62 83.27 327.7 88.7C328.78 94.13 330.03 103.83 331.2 112C332.37 120.17 333.53 130.68 334.7 137.7C335.87 144.72 337.03 150.4 338.2 154.1C339.37 157.8 340.53 158.73 341.7 159.9C342.87 161.07 344.23 161.75 345.2 161.1C346.17 160.45 346.38 157.52 347.5 156C348.62 154.48 350.23 154.4 351.9 152C353.57 149.6 355.88 143.8 357.5 141.6C359.12 139.4 359.98 139.27 361.6 138.8C363.22 138.33 365.23 139.13 367.2 138.8C369.17 138.47 371.2 136.45 373.4 136.8C375.6 137.15 378.43 141.25 380.4 140.9C382.37 140.55 383.23 137.02 385.2 134.7C387.17 132.38 390.23 127 392.2 127C394.17 127 395.5 131.12 397 134.7C398.5 138.28 399.88 144.8 401.2 148.5C402.52 152.2 403.63 156.9 404.9 156.9C406.17 156.9 407 151.52 408.8 148.5C410.6 145.48 413.62 139.25 415.7 138.8C417.78 138.35 419.68 143.02 421.3 145.8C422.92 148.58 424.25 152.85 425.4 155.5C426.55 158.15 427.15 161.23 428.2 161.7C429.25 162.17 430.43 159.33 431.7 158.3C432.97 157.27 435.12 155.97 435.8 155.5" stroke="#f9b256" stroke-width="1.5" fill="none" stroke-linejoin="round" stroke-linecap="round" />
<path d="M14 324.8C14.48 324.75 15.93 324.13 16.9 324.5C17.87 324.87 18.67 326.28 19.8 327C20.93 327.72 22.5 329.13 23.7 328.8C24.9 328.47 26.03 326.63 27 325C27.97 323.37 28.68 320.73 29.5 319C30.32 317.27 31.02 315.65 31.9 314.6C32.78 313.55 33.83 312.85 34.8 312.7C35.77 312.55 36.9 313.45 37.7 313.7C38.5 313.95 38.97 314.4 39.6 314.2C40.23 314 40.77 313.7 41.5 312.5C42.23 311.3 43.03 308.33 44 307C44.97 305.67 46.18 305.17 47.3 304.5C48.42 303.83 49.85 304.17 50.7 303C51.55 301.83 51.93 299.3 52.4 297.5C52.87 295.7 53.12 294.08 53.5 292.2C53.88 290.32 54.37 288.43 54.7 286.2C55.03 283.97 55.23 281.4 55.5 278.8C55.77 276.2 55.98 273.37 56.3 270.6C56.62 267.83 57 264.97 57.4 262.2C57.8 259.43 58.35 256.63 58.7 254C59.05 251.37 59.23 248.92 59.5 246.4C59.77 243.88 59.98 241.22 60.3 238.9C60.62 236.58 61.07 234.55 61.4 232.5C61.73 230.45 61.97 228.3 62.3 226.6C62.63 224.9 63.03 223.48 63.4 222.3C63.77 221.12 64.1 220.1 64.5 219.5C64.9 218.9 65.37 218.57 65.8 218.7C66.23 218.83 66.65 219.38 67.1 220.3C67.55 221.22 68.12 222.7 68.5 224.2C68.88 225.7 69.12 227.45 69.4 229.3C69.68 231.15 69.88 233.12 70.2 235.3C70.52 237.48 70.98 239.82 71.3 242.4C71.62 244.98 71.78 247.82 72.1 250.8C72.42 253.78 72.88 257.13 73.2 260.3C73.52 263.47 73.7 266.58 74 269.8C74.3 273.02 74.65 276.27 75 279.6C75.35 282.93 75.75 286.45 76.1 289.8C76.45 293.15 76.78 296.42 77.1 299.7C77.42 302.98 77.7 306.33 78 309.5C78.3 312.67 78.6 315.83 78.9 318.7C79.2 321.57 79.45 324.48 79.8 326.7C80.15 328.92 80.38 332.53 81 332C81.62 331.47 82.47 325.92 83.5 323.5C84.53 321.08 85.97 317.5 87.2 317.5C88.43 317.5 89.77 321.58 90.9 323.5C92.03 325.42 93.18 328.47 94 329C94.82 329.53 95.05 328.53 95.8 326.7C96.55 324.87 97.37 320.15 98.5 318C99.63 315.85 101.2 313.78 102.6 313.8C104 313.82 105.57 316.87 106.9 318.1C108.23 319.33 109.07 320.38 110.6 321.2C112.13 322.02 114.67 322.08 116.1 323C117.53 323.92 118.07 325.15 119.2 326.7C120.33 328.25 121.47 332.08 122.9 332.3C124.33 332.52 126.17 329.03 127.8 328C129.43 326.97 131.27 326.1 132.7 326.1C134.13 326.1 135.05 327.38 136.4 328C137.75 328.62 139.08 329.12 140.8 329.8C142.52 330.48 144.75 331.42 146.7 332.1C148.65 332.78 150.55 334.23 152.5 333.9C154.45 333.57 156.65 330.5 158.4 330.1C160.15 329.7 161.45 330.77 163 331.5C164.55 332.23 166.13 334.3 167.7 334.5C169.27 334.7 170.85 332.8 172.4 332.7C173.95 332.6 175.45 333.6 177 333.9C178.55 334.2 180.33 334.98 181.7 334.5C183.07 334.02 183.93 331.98 185.2 331C186.47 330.02 187.93 328.8 189.3 328.6C190.67 328.4 191.83 329.22 193.4 329.8C194.97 330.38 196.95 332 198.7 332.1C200.45 332.2 202.15 330.88 203.9 330.4C205.65 329.92 208.32 329.4 209.2 329.2" stroke="#e8606a" stroke-width="1.3" fill="none" stroke-linejoin="round" stroke-linecap="round" />
<path d="M12.1 325.47a2.4 2.4 0 1 0 4.8 0a2.4 2.4 0 1 0 -4.8 0M13.2 324.97a2.4 2.4 0 1 0 4.8 0a2.4 2.4 0 1 0 -4.8 0M14.3 324.77a2.4 2.4 0 1 0 4.8 0a2.4 2.4 0 1 0 -4.8 0M15.4 325.35a2.4 2.4 0 1 0 4.8 0a2.4 2.4 0 1 0 -4.8 0M16.5 326.46a2.4 2.4 0 1 0 4.8 0a2.4 2.4 0 1 0 -4.8 0M17.6 327.33a2.4 2.4 0 1 0 4.8 0a2.4 2.4 0 1 0 -4.8 0M18.7 328.13a2.4 2.4 0 1 0 4.8 0a2.4 2.4 0 1 0 -4.8 0M19.8 328.82a2.4 2.4 0 1 0 4.8 0a2.4 2.4 0 1 0 -4.8 0M20.9 329.14a2.4 2.4 0 1 0 4.8 0a2.4 2.4 0 1 0 -4.8 0M22 328.74a2.4 2.4 0 1 0 4.8 0a2.4 2.4 0 1 0 -4.8 0M23.1 327.63a2.4 2.4 0 1 0 4.8 0a2.4 2.4 0 1 0 -4.8 0M24.2 326.26a2.4 2.4 0 1 0 4.8 0a2.4 2.4 0 1 0 -4.8 0M25.3 325.13a2.4 2.4 0 1 0 4.8 0a2.4 2.4 0 1 0 -4.8 0M26.4 324.16a2.4 2.4 0 1 0 4.8 0a2.4 2.4 0 1 0 -4.8 0M27.5 323.33a2.4 2.4 0 1 0 4.8 0a2.4 2.4 0 1 0 -4.8 0M28.6 322.88a2.4 2.4 0 1 0 4.8 0a2.4 2.4 0 1 0 -4.8 0M29.7 322.98a2.4 2.4 0 1 0 4.8 0a2.4 2.4 0 1 0 -4.8 0M30.8 323.39a2.4 2.4 0 1 0 4.8 0a2.4 2.4 0 1 0 -4.8 0M31.9 323.8a2.4 2.4 0 1 0 4.8 0a2.4 2.4 0 1 0 -4.8 0M33 324.25a2.4 2.4 0 1 0 4.8 0a2.4 2.4 0 1 0 -4.8 0M34.1 324.4a2.4 2.4 0 1 0 4.8 0a2.4 2.4 0 1 0 -4.8 0M35.2 323.5a2.4 2.4 0 1 0 4.8 0a2.4 2.4 0 1 0 -4.8 0M36.3 321.76a2.4 2.4 0 1 0 4.8 0a2.4 2.4 0 1 0 -4.8 0M37.4 318.9a2.4 2.4 0 1 0 4.8 0a2.4 2.4 0 1 0 -4.8 0M38.5 315.07a2.4 2.4 0 1 0 4.8 0a2.4 2.4 0 1 0 -4.8 0M39.6 311.81a2.4 2.4 0 1 0 4.8 0a2.4 2.4 0 1 0 -4.8 0M40.7 309.02a2.4 2.4 0 1 0 4.8 0a2.4 2.4 0 1 0 -4.8 0M41.8 307.14a2.4 2.4 0 1 0 4.8 0a2.4 2.4 0 1 0 -4.8 0M42.9 306.12a2.4 2.4 0 1 0 4.8 0a2.4 2.4 0 1 0 -4.8 0M44 305.48a2.4 2.4 0 1 0 4.8 0a2.4 2.4 0 1 0 -4.8 0M45.1 304.9a2.4 2.4 0 1 0 4.8 0a2.4 2.4 0 1 0 -4.8 0M46.2 304.58a2.4 2.4 0 1 0 4.8 0a2.4 2.4 0 1 0 -4.8 0M47.3 304.29a2.4 2.4 0 1 0 4.8 0a2.4 2.4 0 1 0 -4.8 0M48.4 303.34a2.4 2.4 0 1 0 4.8 0a2.4 2.4 0 1 0 -4.8 0M49.5 299.81a2.4 2.4 0 1 0 4.8 0a2.4 2.4 0 1 0 -4.8 0M50.6 294.75a2.4 2.4 0 1 0 4.8 0a2.4 2.4 0 1 0 -4.8 0M51.7 289.42a2.4 2.4 0 1 0 4.8 0a2.4 2.4 0 1 0 -4.8 0M52.8 281.88a2.4 2.4 0 1 0 4.8 0a2.4 2.4 0 1 0 -4.8 0M53.9 270.6a2.4 2.4 0 1 0 4.8 0a2.4 2.4 0 1 0 -4.8 0M55 262.2a2.4 2.4 0 1 0 4.8 0a2.4 2.4 0 1 0 -4.8 0M56.1 255.39a2.4 2.4 0 1 0 4.8 0a2.4 2.4 0 1 0 -4.8 0M57.2 245.43a2.4 2.4 0 1 0 4.8 0a2.4 2.4 0 1 0 -4.8 0M58.3 236.39a2.4 2.4 0 1 0 4.8 0a2.4 2.4 0 1 0 -4.8 0M59.4 229.78a2.4 2.4 0 1 0 4.8 0a2.4 2.4 0 1 0 -4.8 0M60.5 224.02a2.4 2.4 0 1 0 4.8 0a2.4 2.4 0 1 0 -4.8 0M61.6 220.52a2.4 2.4 0 1 0 4.8 0a2.4 2.4 0 1 0 -4.8 0M62.7 218.85a2.4 2.4 0 1 0 4.8 0a2.4 2.4 0 1 0 -4.8 0M63.8 218.94a2.4 2.4 0 1 0 4.8 0a2.4 2.4 0 1 0 -4.8 0M64.9 220.73a2.4 2.4 0 1 0 4.8 0a2.4 2.4 0 1 0 -4.8 0M66 223.82a2.4 2.4 0 1 0 4.8 0a2.4 2.4 0 1 0 -4.8 0M67.1 229.98a2.4 2.4 0 1 0 4.8 0a2.4 2.4 0 1 0 -4.8 0M68.2 237.8a2.4 2.4 0 1 0 4.8 0a2.4 2.4 0 1 0 -4.8 0M69.3 246.45a2.4 2.4 0 1 0 4.8 0a2.4 2.4 0 1 0 -4.8 0M70.4 256.72a2.4 2.4 0 1 0 4.8 0a2.4 2.4 0 1 0 -4.8 0M71.5 268.68a2.4 2.4 0 1 0 4.8 0a2.4 2.4 0 1 0 -4.8 0M72.6 279.6a2.4 2.4 0 1 0 4.8 0a2.4 2.4 0 1 0 -4.8 0M73.7 289.8a2.4 2.4 0 1 0 4.8 0a2.4 2.4 0 1 0 -4.8 0M74.8 300.75a2.4 2.4 0 1 0 4.8 0a2.4 2.4 0 1 0 -4.8 0M75.9 312.66a2.4 2.4 0 1 0 4.8 0a2.4 2.4 0 1 0 -4.8 0M77 323.54a2.4 2.4 0 1 0 4.8 0a2.4 2.4 0 1 0 -4.8 0M78.1 332.09a2.4 2.4 0 1 0 4.8 0a2.4 2.4 0 1 0 -4.8 0M79.2 332.22a2.4 2.4 0 1 0 4.8 0a2.4 2.4 0 1 0 -4.8 0M80.3 327.12a2.4 2.4 0 1 0 4.8 0a2.4 2.4 0 1 0 -4.8 0M81.4 323.55a2.4 2.4 0 1 0 4.8 0a2.4 2.4 0 1 0 -4.8 0M82.5 320.98a2.4 2.4 0 1 0 4.8 0a2.4 2.4 0 1 0 -4.8 0M83.6 319.02a2.4 2.4 0 1 0 4.8 0a2.4 2.4 0 1 0 -4.8 0M84.7 318.11a2.4 2.4 0 1 0 4.8 0a2.4 2.4 0 1 0 -4.8 0M85.8 318.82a2.4 2.4 0 1 0 4.8 0a2.4 2.4 0 1 0 -4.8 0M86.9 320.8a2.4 2.4 0 1 0 4.8 0a2.4 2.4 0 1 0 -4.8 0M88 323.24a2.4 2.4 0 1 0 4.8 0a2.4 2.4 0 1 0 -4.8 0M89.1 325.7a2.4 2.4 0 1 0 4.8 0a2.4 2.4 0 1 0 -4.8 0M90.2 328.83a2.4 2.4 0 1 0 4.8 0a2.4 2.4 0 1 0 -4.8 0M91.3 331.65a2.4 2.4 0 1 0 4.8 0a2.4 2.4 0 1 0 -4.8 0M92.4 332.98a2.4 2.4 0 1 0 4.8 0a2.4 2.4 0 1 0 -4.8 0M93.5 332.29a2.4 2.4 0 1 0 4.8 0a2.4 2.4 0 1 0 -4.8 0M94.6 330.54a2.4 2.4 0 1 0 4.8 0a2.4 2.4 0 1 0 -4.8 0M95.7 328.82a2.4 2.4 0 1 0 4.8 0a2.4 2.4 0 1 0 -4.8 0M96.8 327.61a2.4 2.4 0 1 0 4.8 0a2.4 2.4 0 1 0 -4.8 0M97.9 326.4a2.4 2.4 0 1 0 4.8 0a2.4 2.4 0 1 0 -4.8 0M99 325.6a2.4 2.4 0 1 0 4.8 0a2.4 2.4 0 1 0 -4.8 0M100.1 325.65a2.4 2.4 0 1 0 4.8 0a2.4 2.4 0 1 0 -4.8 0M101.2 326.6a2.4 2.4 0 1 0 4.8 0a2.4 2.4 0 1 0 -4.8 0M102.3 327.99a2.4 2.4 0 1 0 4.8 0a2.4 2.4 0 1 0 -4.8 0M103.4 329.31a2.4 2.4 0 1 0 4.8 0a2.4 2.4 0 1 0 -4.8 0M104.5 330.77a2.4 2.4 0 1 0 4.8 0a2.4 2.4 0 1 0 -4.8 0M105.6 332.33a2.4 2.4 0 1 0 4.8 0a2.4 2.4 0 1 0 -4.8 0M106.7 333.58a2.4 2.4 0 1 0 4.8 0a2.4 2.4 0 1 0 -4.8 0M107.8 334.12a2.4 2.4 0 1 0 4.8 0a2.4 2.4 0 1 0 -4.8 0M108.9 333.7a2.4 2.4 0 1 0 4.8 0a2.4 2.4 0 1 0 -4.8 0M110 332.73a2.4 2.4 0 1 0 4.8 0a2.4 2.4 0 1 0 -4.8 0M111.1 331.62a2.4 2.4 0 1 0 4.8 0a2.4 2.4 0 1 0 -4.8 0M112.2 330.84a2.4 2.4 0 1 0 4.8 0a2.4 2.4 0 1 0 -4.8 0M113.3 330.33a2.4 2.4 0 1 0 4.8 0a2.4 2.4 0 1 0 -4.8 0M114.4 330.14a2.4 2.4 0 1 0 4.8 0a2.4 2.4 0 1 0 -4.8 0M115.5 330.33a2.4 2.4 0 1 0 4.8 0a2.4 2.4 0 1 0 -4.8 0M116.6 330.77a2.4 2.4 0 1 0 4.8 0a2.4 2.4 0 1 0 -4.8 0M117.7 331.35a2.4 2.4 0 1 0 4.8 0a2.4 2.4 0 1 0 -4.8 0M118.8 331.99a2.4 2.4 0 1 0 4.8 0a2.4 2.4 0 1 0 -4.8 0M119.9 332.77a2.4 2.4 0 1 0 4.8 0a2.4 2.4 0 1 0 -4.8 0M121 333.96a2.4 2.4 0 1 0 4.8 0a2.4 2.4 0 1 0 -4.8 0M122.1 334.67a2.4 2.4 0 1 0 4.8 0a2.4 2.4 0 1 0 -4.8 0M123.2 334.52a2.4 2.4 0 1 0 4.8 0a2.4 2.4 0 1 0 -4.8 0M124.3 333.95a2.4 2.4 0 1 0 4.8 0a2.4 2.4 0 1 0 -4.8 0M125.4 333.32a2.4 2.4 0 1 0 4.8 0a2.4 2.4 0 1 0 -4.8 0M126.5 332.92a2.4 2.4 0 1 0 4.8 0a2.4 2.4 0 1 0 -4.8 0M127.6 332.78a2.4 2.4 0 1 0 4.8 0a2.4 2.4 0 1 0 -4.8 0M128.7 332.74a2.4 2.4 0 1 0 4.8 0a2.4 2.4 0 1 0 -4.8 0M129.8 332.81a2.4 2.4 0 1 0 4.8 0a2.4 2.4 0 1 0 -4.8 0M130.9 333a2.4 2.4 0 1 0 4.8 0a2.4 2.4 0 1 0 -4.8 0M132 333.38a2.4 2.4 0 1 0 4.8 0a2.4 2.4 0 1 0 -4.8 0M133.1 334.21a2.4 2.4 0 1 0 4.8 0a2.4 2.4 0 1 0 -4.8 0M134.2 335.23a2.4 2.4 0 1 0 4.8 0a2.4 2.4 0 1 0 -4.8 0M135.3 335.98a2.4 2.4 0 1 0 4.8 0a2.4 2.4 0 1 0 -4.8 0M136.4 336.19a2.4 2.4 0 1 0 4.8 0a2.4 2.4 0 1 0 -4.8 0M137.5 335.82a2.4 2.4 0 1 0 4.8 0a2.4 2.4 0 1 0 -4.8 0M138.6 335.16a2.4 2.4 0 1 0 4.8 0a2.4 2.4 0 1 0 -4.8 0M139.7 334.5a2.4 2.4 0 1 0 4.8 0a2.4 2.4 0 1 0 -4.8 0M140.8 334.04a2.4 2.4 0 1 0 4.8 0a2.4 2.4 0 1 0 -4.8 0M141.9 333.9a2.4 2.4 0 1 0 4.8 0a2.4 2.4 0 1 0 -4.8 0M143 334.1a2.4 2.4 0 1 0 4.8 0a2.4 2.4 0 1 0 -4.8 0M144.1 334.5a2.4 2.4 0 1 0 4.8 0a2.4 2.4 0 1 0 -4.8 0M145.2 335a2.4 2.4 0 1 0 4.8 0a2.4 2.4 0 1 0 -4.8 0M146.3 335.53a2.4 2.4 0 1 0 4.8 0a2.4 2.4 0 1 0 -4.8 0M147.4 336.04a2.4 2.4 0 1 0 4.8 0a2.4 2.4 0 1 0 -4.8 0M148.5 336.47a2.4 2.4 0 1 0 4.8 0a2.4 2.4 0 1 0 -4.8 0M149.6 336.75a2.4 2.4 0 1 0 4.8 0a2.4 2.4 0 1 0 -4.8 0M150.7 336.78a2.4 2.4 0 1 0 4.8 0a2.4 2.4 0 1 0 -4.8 0M151.8 336.54a2.4 2.4 0 1 0 4.8 0a2.4 2.4 0 1 0 -4.8 0M152.9 336.1a2.4 2.4 0 1 0 4.8 0a2.4 2.4 0 1 0 -4.8 0M154 335.56a2.4 2.4 0 1 0 4.8 0a2.4 2.4 0 1 0 -4.8 0M155.1 335.03a2.4 2.4 0 1 0 4.8 0a2.4 2.4 0 1 0 -4.8 0M156.2 334.64a2.4 2.4 0 1 0 4.8 0a2.4 2.4 0 1 0 -4.8 0M157.3 334.5a2.4 2.4 0 1 0 4.8 0a2.4 2.4 0 1 0 -4.8 0M158.4 334.62a2.4 2.4 0 1 0 4.8 0a2.4 2.4 0 1 0 -4.8 0M159.5 334.93a2.4 2.4 0 1 0 4.8 0a2.4 2.4 0 1 0 -4.8 0M160.6 335.32a2.4 2.4 0 1 0 4.8 0a2.4 2.4 0 1 0 -4.8 0M161.7 335.73a2.4 2.4 0 1 0 4.8 0a2.4 2.4 0 1 0 -4.8 0M162.8 336.06a2.4 2.4 0 1 0 4.8 0a2.4 2.4 0 1 0 -4.8 0M163.9 336.2a2.4 2.4 0 1 0 4.8 0a2.4 2.4 0 1 0 -4.8 0M165 336.03a2.4 2.4 0 1 0 4.8 0a2.4 2.4 0 1 0 -4.8 0M166.1 335.49a2.4 2.4 0 1 0 4.8 0a2.4 2.4 0 1 0 -4.8 0M167.2 334.79a2.4 2.4 0 1 0 4.8 0a2.4 2.4 0 1 0 -4.8 0M168.3 334.21a2.4 2.4 0 1 0 4.8 0a2.4 2.4 0 1 0 -4.8 0M169.4 333.93a2.4 2.4 0 1 0 4.8 0a2.4 2.4 0 1 0 -4.8 0M170.5 333.95a2.4 2.4 0 1 0 4.8 0a2.4 2.4 0 1 0 -4.8 0M171.6 334.2a2.4 2.4 0 1 0 4.8 0a2.4 2.4 0 1 0 -4.8 0M172.7 334.59a2.4 2.4 0 1 0 4.8 0a2.4 2.4 0 1 0 -4.8 0M173.8 335.04a2.4 2.4 0 1 0 4.8 0a2.4 2.4 0 1 0 -4.8 0M174.9 335.5a2.4 2.4 0 1 0 4.8 0a2.4 2.4 0 1 0 -4.8 0M176 335.94a2.4 2.4 0 1 0 4.8 0a2.4 2.4 0 1 0 -4.8 0M177.1 336.32a2.4 2.4 0 1 0 4.8 0a2.4 2.4 0 1 0 -4.8 0M178.2 336.61a2.4 2.4 0 1 0 4.8 0a2.4 2.4 0 1 0 -4.8 0M179.3 336.8a2.4 2.4 0 1 0 4.8 0a2.4 2.4 0 1 0 -4.8 0M180.4 336.88a2.4 2.4 0 1 0 4.8 0a2.4 2.4 0 1 0 -4.8 0M181.5 336.89a2.4 2.4 0 1 0 4.8 0a2.4 2.4 0 1 0 -4.8 0M182.6 336.84a2.4 2.4 0 1 0 4.8 0a2.4 2.4 0 1 0 -4.8 0M183.7 336.76a2.4 2.4 0 1 0 4.8 0a2.4 2.4 0 1 0 -4.8 0M184.8 336.66a2.4 2.4 0 1 0 4.8 0a2.4 2.4 0 1 0 -4.8 0M185.9 336.55a2.4 2.4 0 1 0 4.8 0a2.4 2.4 0 1 0 -4.8 0M187 336.44a2.4 2.4 0 1 0 4.8 0a2.4 2.4 0 1 0 -4.8 0M188.1 336.34a2.4 2.4 0 1 0 4.8 0a2.4 2.4 0 1 0 -4.8 0M189.2 336.27a2.4 2.4 0 1 0 4.8 0a2.4 2.4 0 1 0 -4.8 0M190.3 336.22a2.4 2.4 0 1 0 4.8 0a2.4 2.4 0 1 0 -4.8 0M191.4 336.2a2.4 2.4 0 1 0 4.8 0a2.4 2.4 0 1 0 -4.8 0M192.5 336.19a2.4 2.4 0 1 0 4.8 0a2.4 2.4 0 1 0 -4.8 0M193.6 336.19a2.4 2.4 0 1 0 4.8 0a2.4 2.4 0 1 0 -4.8 0M194.7 336.2a2.4 2.4 0 1 0 4.8 0a2.4 2.4 0 1 0 -4.8 0M195.8 336.2a2.4 2.4 0 1 0 4.8 0a2.4 2.4 0 1 0 -4.8 0M196.9 336.22a2.4 2.4 0 1 0 4.8 0a2.4 2.4 0 1 0 -4.8 0M198 336.23a2.4 2.4 0 1 0 4.8 0a2.4 2.4 0 1 0 -4.8 0M199.1 336.25a2.4 2.4 0 1 0 4.8 0a2.4 2.4 0 1 0 -4.8 0M200.2 336.27a2.4 2.4 0 1 0 4.8 0a2.4 2.4 0 1 0 -4.8 0M201.3 336.29a2.4 2.4 0 1 0 4.8 0a2.4 2.4 0 1 0 -4.8 0M202.4 336.31a2.4 2.4 0 1 0 4.8 0a2.4 2.4 0 1 0 -4.8 0M203.5 336.33a2.4 2.4 0 1 0 4.8 0a2.4 2.4 0 1 0 -4.8 0M204.6 336.35a2.4 2.4 0 1 0 4.8 0a2.4 2.4 0 1 0 -4.8 0M205.7 336.37a2.4 2.4 0 1 0 4.8 0a2.4 2.4 0 1 0 -4.8 0M206.8 336.39a2.4 2.4 0 1 0 4.8 0a2.4 2.4 0 1 0 -4.8 0M207.9 336.4a2.4 2.4 0 1 0 4.8 0a2.4 2.4 0 1 0 -4.8 0" fill="#e8606a"/>
<path d="M242 324C242.68 324.5 244.68 325.92 246.1 327C247.52 328.08 249.05 330.8 250.5 330.5C251.95 330.2 253.48 327.67 254.8 325.2C256.12 322.73 257.28 317.8 258.4 315.7C259.52 313.6 260.37 313.32 261.5 312.6C262.63 311.88 264.17 311.92 265.2 311.4C266.23 310.88 266.88 310.43 267.7 309.5C268.52 308.57 269.28 307.3 270.1 305.8C270.92 304.3 271.78 301.88 272.6 300.5C273.42 299.12 274.28 297.17 275 297.5C275.72 297.83 276.18 302.25 276.9 302.5C277.62 302.75 278.58 301.42 279.3 299C280.02 296.58 280.63 292.63 281.2 288C281.77 283.37 282.15 276.53 282.7 271.2C283.25 265.87 283.85 260.67 284.5 256C285.15 251.33 285.92 247.45 286.6 243.2C287.28 238.95 287.88 234.32 288.6 230.5C289.32 226.68 290.1 223.05 290.9 220.3C291.7 217.55 292.42 214 293.4 214C294.38 214 295.9 216.7 296.8 220.3C297.7 223.9 298.17 230.5 298.8 235.6C299.43 240.7 299.98 243.08 300.6 250.9C301.22 258.72 301.88 273.55 302.5 282.5C303.12 291.45 303.8 298.05 304.3 304.6C304.8 311.15 304.98 317.08 305.5 321.8C306.02 326.52 306.37 330.33 307.4 332.9C308.43 335.47 310.47 337.2 311.7 337.2C312.93 337.2 313.98 335.67 314.8 332.9C315.62 330.13 315.98 326.33 316.6 320.6C317.22 314.87 317.98 305.27 318.5 298.5C319.02 291.73 319.42 284.55 319.7 280C319.98 275.45 319.78 275.63 320.2 271.2C320.62 266.77 321.52 259.33 322.2 253.4C322.88 247.47 323.57 241.12 324.3 235.6C325.03 230.08 325.8 223.9 326.6 220.3C327.4 216.7 328.13 214 329.1 214C330.07 214 331.42 216.28 332.4 220.3C333.38 224.32 334.23 232.15 335 238.1C335.77 244.05 336.37 250.05 337 256C337.63 261.95 338.37 269.8 338.8 273.8C339.23 277.8 339.2 275.88 339.6 280C340 284.12 340.63 292.55 341.2 298.5C341.77 304.45 342.43 310.17 343 315.7C343.57 321.23 344.18 327.6 344.6 331.7C345.02 335.8 345.03 339.9 345.5 340.3C345.97 340.7 346.58 336.77 347.4 334.1C348.22 331.43 349.28 327.78 350.4 324.3C351.52 320.82 352.67 316.28 354.1 313.2C355.53 310.12 357.47 306 359 305.8C360.53 305.6 362.13 310.05 363.3 312C364.47 313.95 365.08 316.23 366 317.5C366.92 318.77 367.5 320.62 368.8 319.6C370.1 318.58 372.25 313.32 373.8 311.4C375.35 309.48 376.55 307.63 378.1 308.1C379.65 308.57 381.55 311.63 383.1 314.2C384.65 316.77 386.03 321.03 387.4 323.5C388.77 325.97 389.92 328.92 391.3 329C392.68 329.08 393.97 325.47 395.7 324C397.43 322.53 399.88 320.1 401.7 320.2C403.52 320.3 405.05 322.78 406.6 324.6C408.15 326.42 409.58 329.1 411 331.1C412.42 333.1 413.63 336.5 415.1 336.6C416.57 336.7 418.12 333.25 419.8 331.7C421.48 330.15 423.38 328.35 425.2 327.3C427.02 326.25 428.68 325.4 430.7 325.4C432.72 325.4 436.2 326.98 437.3 327.3" stroke="#62c4a2" stroke-width="1.3" fill="none" stroke-linejoin="round" stroke-linecap="round" />
<path d="M240.1 324.3a2.4 2.4 0 1 0 4.8 0a2.4 2.4 0 1 0 -4.8 0M241.2 325.23a2.4 2.4 0 1 0 4.8 0a2.4 2.4 0 1 0 -4.8 0M242.3 326.15a2.4 2.4 0 1 0 4.8 0a2.4 2.4 0 1 0 -4.8 0M243.4 327.06a2.4 2.4 0 1 0 4.8 0a2.4 2.4 0 1 0 -4.8 0M244.5 328.06a2.4 2.4 0 1 0 4.8 0a2.4 2.4 0 1 0 -4.8 0M245.6 329.25a2.4 2.4 0 1 0 4.8 0a2.4 2.4 0 1 0 -4.8 0M246.7 330.25a2.4 2.4 0 1 0 4.8 0a2.4 2.4 0 1 0 -4.8 0M247.8 330.72a2.4 2.4 0 1 0 4.8 0a2.4 2.4 0 1 0 -4.8 0M248.9 330.26a2.4 2.4 0 1 0 4.8 0a2.4 2.4 0 1 0 -4.8 0M250 328.99a2.4 2.4 0 1 0 4.8 0a2.4 2.4 0 1 0 -4.8 0M251.1 327.33a2.4 2.4 0 1 0 4.8 0a2.4 2.4 0 1 0 -4.8 0M252.2 325.75a2.4 2.4 0 1 0 4.8 0a2.4 2.4 0 1 0 -4.8 0M253.3 324.35a2.4 2.4 0 1 0 4.8 0a2.4 2.4 0 1 0 -4.8 0M254.4 322.87a2.4 2.4 0 1 0 4.8 0a2.4 2.4 0 1 0 -4.8 0M255.5 321.53a2.4 2.4 0 1 0 4.8 0a2.4 2.4 0 1 0 -4.8 0M256.6 320.65a2.4 2.4 0 1 0 4.8 0a2.4 2.4 0 1 0 -4.8 0M257.7 320.62a2.4 2.4 0 1 0 4.8 0a2.4 2.4 0 1 0 -4.8 0M258.8 321.34a2.4 2.4 0 1 0 4.8 0a2.4 2.4 0 1 0 -4.8 0M259.9 322.2a2.4 2.4 0 1 0 4.8 0a2.4 2.4 0 1 0 -4.8 0M261 322.72a2.4 2.4 0 1 0 4.8 0a2.4 2.4 0 1 0 -4.8 0M262.1 323.26a2.4 2.4 0 1 0 4.8 0a2.4 2.4 0 1 0 -4.8 0M263.2 323.16a2.4 2.4 0 1 0 4.8 0a2.4 2.4 0 1 0 -4.8 0M264.3 321.56a2.4 2.4 0 1 0 4.8 0a2.4 2.4 0 1 0 -4.8 0M265.4 318.56a2.4 2.4 0 1 0 4.8 0a2.4 2.4 0 1 0 -4.8 0M266.5 314.31a2.4 2.4 0 1 0 4.8 0a2.4 2.4 0 1 0 -4.8 0M267.6 308.69a2.4 2.4 0 1 0 4.8 0a2.4 2.4 0 1 0 -4.8 0M268.7 304.89a2.4 2.4 0 1 0 4.8 0a2.4 2.4 0 1 0 -4.8 0M269.8 301.83a2.4 2.4 0 1 0 4.8 0a2.4 2.4 0 1 0 -4.8 0M270.9 299.51a2.4 2.4 0 1 0 4.8 0a2.4 2.4 0 1 0 -4.8 0M272 297.75a2.4 2.4 0 1 0 4.8 0a2.4 2.4 0 1 0 -4.8 0M273.1 296.26a2.4 2.4 0 1 0 4.8 0a2.4 2.4 0 1 0 -4.8 0M274.2 295.06a2.4 2.4 0 1 0 4.8 0a2.4 2.4 0 1 0 -4.8 0M275.3 294.13a2.4 2.4 0 1 0 4.8 0a2.4 2.4 0 1 0 -4.8 0M276.4 293.04a2.4 2.4 0 1 0 4.8 0a2.4 2.4 0 1 0 -4.8 0M277.5 291.12a2.4 2.4 0 1 0 4.8 0a2.4 2.4 0 1 0 -4.8 0M278.6 287.17a2.4 2.4 0 1 0 4.8 0a2.4 2.4 0 1 0 -4.8 0M279.7 277.53a2.4 2.4 0 1 0 4.8 0a2.4 2.4 0 1 0 -4.8 0M280.8 266.67a2.4 2.4 0 1 0 4.8 0a2.4 2.4 0 1 0 -4.8 0M281.9 257.47a2.4 2.4 0 1 0 4.8 0a2.4 2.4 0 1 0 -4.8 0M283 250.25a2.4 2.4 0 1 0 4.8 0a2.4 2.4 0 1 0 -4.8 0M284.1 243.82a2.4 2.4 0 1 0 4.8 0a2.4 2.4 0 1 0 -4.8 0M285.2 236.6a2.4 2.4 0 1 0 4.8 0a2.4 2.4 0 1 0 -4.8 0M286.3 229.97a2.4 2.4 0 1 0 4.8 0a2.4 2.4 0 1 0 -4.8 0M287.4 224.64a2.4 2.4 0 1 0 4.8 0a2.4 2.4 0 1 0 -4.8 0M288.5 220.3a2.4 2.4 0 1 0 4.8 0a2.4 2.4 0 1 0 -4.8 0M289.6 216.38a2.4 2.4 0 1 0 4.8 0a2.4 2.4 0 1 0 -4.8 0M290.7 214.11a2.4 2.4 0 1 0 4.8 0a2.4 2.4 0 1 0 -4.8 0M291.8 214.46a2.4 2.4 0 1 0 4.8 0a2.4 2.4 0 1 0 -4.8 0M292.9 216.12a2.4 2.4 0 1 0 4.8 0a2.4 2.4 0 1 0 -4.8 0M294 218.88a2.4 2.4 0 1 0 4.8 0a2.4 2.4 0 1 0 -4.8 0M295.1 224.16a2.4 2.4 0 1 0 4.8 0a2.4 2.4 0 1 0 -4.8 0M296.2 233.9a2.4 2.4 0 1 0 4.8 0a2.4 2.4 0 1 0 -4.8 0M297.3 242.99a2.4 2.4 0 1 0 4.8 0a2.4 2.4 0 1 0 -4.8 0M298.4 252.75a2.4 2.4 0 1 0 4.8 0a2.4 2.4 0 1 0 -4.8 0M299.5 263.38a2.4 2.4 0 1 0 4.8 0a2.4 2.4 0 1 0 -4.8 0M300.6 276.72a2.4 2.4 0 1 0 4.8 0a2.4 2.4 0 1 0 -4.8 0M301.7 290.67a2.4 2.4 0 1 0 4.8 0a2.4 2.4 0 1 0 -4.8 0M302.8 302.8a2.4 2.4 0 1 0 4.8 0a2.4 2.4 0 1 0 -4.8 0M303.9 311.17a2.4 2.4 0 1 0 4.8 0a2.4 2.4 0 1 0 -4.8 0M305 321.32a2.4 2.4 0 1 0 4.8 0a2.4 2.4 0 1 0 -4.8 0M306.1 327.04a2.4 2.4 0 1 0 4.8 0a2.4 2.4 0 1 0 -4.8 0M307.2 331.39a2.4 2.4 0 1 0 4.8 0a2.4 2.4 0 1 0 -4.8 0M308.3 333.97a2.4 2.4 0 1 0 4.8 0a2.4 2.4 0 1 0 -4.8 0M309.4 334.75a2.4 2.4 0 1 0 4.8 0a2.4 2.4 0 1 0 -4.8 0M310.5 333.37a2.4 2.4 0 1 0 4.8 0a2.4 2.4 0 1 0 -4.8 0M311.6 330.12a2.4 2.4 0 1 0 4.8 0a2.4 2.4 0 1 0 -4.8 0M312.7 325.5a2.4 2.4 0 1 0 4.8 0a2.4 2.4 0 1 0 -4.8 0M313.8 314.37a2.4 2.4 0 1 0 4.8 0a2.4 2.4 0 1 0 -4.8 0M314.9 303.81a2.4 2.4 0 1 0 4.8 0a2.4 2.4 0 1 0 -4.8 0M316 290.28a2.4 2.4 0 1 0 4.8 0a2.4 2.4 0 1 0 -4.8 0M317.1 278.18a2.4 2.4 0 1 0 4.8 0a2.4 2.4 0 1 0 -4.8 0M318.2 267.47a2.4 2.4 0 1 0 4.8 0a2.4 2.4 0 1 0 -4.8 0M319.3 257.74a2.4 2.4 0 1 0 4.8 0a2.4 2.4 0 1 0 -4.8 0M320.4 248.13a2.4 2.4 0 1 0 4.8 0a2.4 2.4 0 1 0 -4.8 0M321.5 238.72a2.4 2.4 0 1 0 4.8 0a2.4 2.4 0 1 0 -4.8 0M322.6 230.31a2.4 2.4 0 1 0 4.8 0a2.4 2.4 0 1 0 -4.8 0M323.7 222.88a2.4 2.4 0 1 0 4.8 0a2.4 2.4 0 1 0 -4.8 0M324.8 217.77a2.4 2.4 0 1 0 4.8 0a2.4 2.4 0 1 0 -4.8 0M325.9 214.66a2.4 2.4 0 1 0 4.8 0a2.4 2.4 0 1 0 -4.8 0M327 214.07a2.4 2.4 0 1 0 4.8 0a2.4 2.4 0 1 0 -4.8 0M328.1 215.23a2.4 2.4 0 1 0 4.8 0a2.4 2.4 0 1 0 -4.8 0M329.2 217.61a2.4 2.4 0 1 0 4.8 0a2.4 2.4 0 1 0 -4.8 0M330.3 221.66a2.4 2.4 0 1 0 4.8 0a2.4 2.4 0 1 0 -4.8 0M331.4 228.62a2.4 2.4 0 1 0 4.8 0a2.4 2.4 0 1 0 -4.8 0M332.5 237.32a2.4 2.4 0 1 0 4.8 0a2.4 2.4 0 1 0 -4.8 0M333.6 246.59a2.4 2.4 0 1 0 4.8 0a2.4 2.4 0 1 0 -4.8 0M334.7 256.95a2.4 2.4 0 1 0 4.8 0a2.4 2.4 0 1 0 -4.8 0M335.8 268.19a2.4 2.4 0 1 0 4.8 0a2.4 2.4 0 1 0 -4.8 0M336.9 277.62a2.4 2.4 0 1 0 4.8 0a2.4 2.4 0 1 0 -4.8 0M338 284.84a2.4 2.4 0 1 0 4.8 0a2.4 2.4 0 1 0 -4.8 0M339.1 292.75a2.4 2.4 0 1 0 4.8 0a2.4 2.4 0 1 0 -4.8 0M340.2 300.77a2.4 2.4 0 1 0 4.8 0a2.4 2.4 0 1 0 -4.8 0M341.3 305.2a2.4 2.4 0 1 0 4.8 0a2.4 2.4 0 1 0 -4.8 0M342.4 308.44a2.4 2.4 0 1 0 4.8 0a2.4 2.4 0 1 0 -4.8 0M343.5 311.44a2.4 2.4 0 1 0 4.8 0a2.4 2.4 0 1 0 -4.8 0M344.6 314.55a2.4 2.4 0 1 0 4.8 0a2.4 2.4 0 1 0 -4.8 0M345.7 317.64a2.4 2.4 0 1 0 4.8 0a2.4 2.4 0 1 0 -4.8 0M346.8 320.6a2.4 2.4 0 1 0 4.8 0a2.4 2.4 0 1 0 -4.8 0M347.9 323.42a2.4 2.4 0 1 0 4.8 0a2.4 2.4 0 1 0 -4.8 0M349 326.07a2.4 2.4 0 1 0 4.8 0a2.4 2.4 0 1 0 -4.8 0M350.1 328.4a2.4 2.4 0 1 0 4.8 0a2.4 2.4 0 1 0 -4.8 0M351.2 330.66a2.4 2.4 0 1 0 4.8 0a2.4 2.4 0 1 0 -4.8 0M352.3 332.38a2.4 2.4 0 1 0 4.8 0a2.4 2.4 0 1 0 -4.8 0M353.4 332.93a2.4 2.4 0 1 0 4.8 0a2.4 2.4 0 1 0 -4.8 0M354.5 332.28a2.4 2.4 0 1 0 4.8 0a2.4 2.4 0 1 0 -4.8 0M355.6 331.19a2.4 2.4 0 1 0 4.8 0a2.4 2.4 0 1 0 -4.8 0M356.7 330.35a2.4 2.4 0 1 0 4.8 0a2.4 2.4 0 1 0 -4.8 0M357.8 329.86a2.4 2.4 0 1 0 4.8 0a2.4 2.4 0 1 0 -4.8 0M358.9 329.65a2.4 2.4 0 1 0 4.8 0a2.4 2.4 0 1 0 -4.8 0M360 329.93a2.4 2.4 0 1 0 4.8 0a2.4 2.4 0 1 0 -4.8 0M361.1 330.71a2.4 2.4 0 1 0 4.8 0a2.4 2.4 0 1 0 -4.8 0M362.2 331.73a2.4 2.4 0 1 0 4.8 0a2.4 2.4 0 1 0 -4.8 0M363.3 332.81a2.4 2.4 0 1 0 4.8 0a2.4 2.4 0 1 0 -4.8 0M364.4 334.18a2.4 2.4 0 1 0 4.8 0a2.4 2.4 0 1 0 -4.8 0M365.5 335.73a2.4 2.4 0 1 0 4.8 0a2.4 2.4 0 1 0 -4.8 0M366.6 336.51a2.4 2.4 0 1 0 4.8 0a2.4 2.4 0 1 0 -4.8 0M367.7 336.51a2.4 2.4 0 1 0 4.8 0a2.4 2.4 0 1 0 -4.8 0M368.8 335.98a2.4 2.4 0 1 0 4.8 0a2.4 2.4 0 1 0 -4.8 0M369.9 335.28a2.4 2.4 0 1 0 4.8 0a2.4 2.4 0 1 0 -4.8 0M371 334.6a2.4 2.4 0 1 0 4.8 0a2.4 2.4 0 1 0 -4.8 0M372.1 334.1a2.4 2.4 0 1 0 4.8 0a2.4 2.4 0 1 0 -4.8 0M373.2 333.88a2.4 2.4 0 1 0 4.8 0a2.4 2.4 0 1 0 -4.8 0M374.3 334.07a2.4 2.4 0 1 0 4.8 0a2.4 2.4 0 1 0 -4.8 0M375.4 334.57a2.4 2.4 0 1 0 4.8 0a2.4 2.4 0 1 0 -4.8 0M376.5 335.27a2.4 2.4 0 1 0 4.8 0a2.4 2.4 0 1 0 -4.8 0M377.6 336.04a2.4 2.4 0 1 0 4.8 0a2.4 2.4 0 1 0 -4.8 0M378.7 336.83a2.4 2.4 0 1 0 4.8 0a2.4 2.4 0 1 0 -4.8 0M379.8 337.53a2.4 2.4 0 1 0 4.8 0a2.4 2.4 0 1 0 -4.8 0M380.9 338.06a2.4 2.4 0 1 0 4.8 0a2.4 2.4 0 1 0 -4.8 0M382 338.31a2.4 2.4 0 1 0 4.8 0a2.4 2.4 0 1 0 -4.8 0M383.1 338.19a2.4 2.4 0 1 0 4.8 0a2.4 2.4 0 1 0 -4.8 0M384.2 337.77a2.4 2.4 0 1 0 4.8 0a2.4 2.4 0 1 0 -4.8 0M385.3 337.16a2.4 2.4 0 1 0 4.8 0a2.4 2.4 0 1 0 -4.8 0M386.4 336.52a2.4 2.4 0 1 0 4.8 0a2.4 2.4 0 1 0 -4.8 0M387.5 335.99a2.4 2.4 0 1 0 4.8 0a2.4 2.4 0 1 0 -4.8 0M388.6 335.72a2.4 2.4 0 1 0 4.8 0a2.4 2.4 0 1 0 -4.8 0M389.7 335.78a2.4 2.4 0 1 0 4.8 0a2.4 2.4 0 1 0 -4.8 0M390.8 336.08a2.4 2.4 0 1 0 4.8 0a2.4 2.4 0 1 0 -4.8 0M391.9 336.52a2.4 2.4 0 1 0 4.8 0a2.4 2.4 0 1 0 -4.8 0M393 337.03a2.4 2.4 0 1 0 4.8 0a2.4 2.4 0 1 0 -4.8 0M394.1 337.55a2.4 2.4 0 1 0 4.8 0a2.4 2.4 0 1 0 -4.8 0M395.2 337.99a2.4 2.4 0 1 0 4.8 0a2.4 2.4 0 1 0 -4.8 0M396.3 338.27a2.4 2.4 0 1 0 4.8 0a2.4 2.4 0 1 0 -4.8 0M397.4 338.31a2.4 2.4 0 1 0 4.8 0a2.4 2.4 0 1 0 -4.8 0M398.5 338.15a2.4 2.4 0 1 0 4.8 0a2.4 2.4 0 1 0 -4.8 0M399.6 337.84a2.4 2.4 0 1 0 4.8 0a2.4 2.4 0 1 0 -4.8 0M400.7 337.51a2.4 2.4 0 1 0 4.8 0a2.4 2.4 0 1 0 -4.8 0M401.8 337.27a2.4 2.4 0 1 0 4.8 0a2.4 2.4 0 1 0 -4.8 0M402.9 337.2a2.4 2.4 0 1 0 4.8 0a2.4 2.4 0 1 0 -4.8 0M404 337.29a2.4 2.4 0 1 0 4.8 0a2.4 2.4 0 1 0 -4.8 0M405.1 337.49a2.4 2.4 0 1 0 4.8 0a2.4 2.4 0 1 0 -4.8 0M406.2 337.75a2.4 2.4 0 1 0 4.8 0a2.4 2.4 0 1 0 -4.8 0M407.3 338.04a2.4 2.4 0 1 0 4.8 0a2.4 2.4 0 1 0 -4.8 0M408.4 338.33a2.4 2.4 0 1 0 4.8 0a2.4 2.4 0 1 0 -4.8 0M409.5 338.6a2.4 2.4 0 1 0 4.8 0a2.4 2.4 0 1 0 -4.8 0M410.6 338.82a2.4 2.4 0 1 0 4.8 0a2.4 2.4 0 1 0 -4.8 0M411.7 338.98a2.4 2.4 0 1 0 4.8 0a2.4 2.4 0 1 0 -4.8 0M412.8 339.07a2.4 2.4 0 1 0 4.8 0a2.4 2.4 0 1 0 -4.8 0M413.9 339.13a2.4 2.4 0 1 0 4.8 0a2.4 2.4 0 1 0 -4.8 0M415 339.15a2.4 2.4 0 1 0 4.8 0a2.4 2.4 0 1 0 -4.8 0M416.1 339.15a2.4 2.4 0 1 0 4.8 0a2.4 2.4 0 1 0 -4.8 0M417.2 339.14a2.4 2.4 0 1 0 4.8 0a2.4 2.4 0 1 0 -4.8 0M418.3 339.12a2.4 2.4 0 1 0 4.8 0a2.4 2.4 0 1 0 -4.8 0M419.4 339.11a2.4 2.4 0 1 0 4.8 0a2.4 2.4 0 1 0 -4.8 0M420.5 339.09a2.4 2.4 0 1 0 4.8 0a2.4 2.4 0 1 0 -4.8 0M421.6 339.09a2.4 2.4 0 1 0 4.8 0a2.4 2.4 0 1 0 -4.8 0M422.7 339.1a2.4 2.4 0 1 0 4.8 0a2.4 2.4 0 1 0 -4.8 0M423.8 339.12a2.4 2.4 0 1 0 4.8 0a2.4 2.4 0 1 0 -4.8 0M424.9 339.14a2.4 2.4 0 1 0 4.8 0a2.4 2.4 0 1 0 -4.8 0M426 339.16a2.4 2.4 0 1 0 4.8 0a2.4 2.4 0 1 0 -4.8 0M427.1 339.18a2.4 2.4 0 1 0 4.8 0a2.4 2.4 0 1 0 -4.8 0M428.2 339.2a2.4 2.4 0 1 0 4.8 0a2.4 2.4 0 1 0 -4.8 0M429.3 339.23a2.4 2.4 0 1 0 4.8 0a2.4 2.4 0 1 0 -4.8 0M430.4 339.25a2.4 2.4 0 1 0 4.8 0a2.4 2.4 0 1 0 -4.8 0M431.5 339.28a2.4 2.4 0 1 0 4.8 0a2.4 2.4 0 1 0 -4.8 0M432.6 339.3a2.4 2.4 0 1 0 4.8 0a2.4 2.4 0 1 0 -4.8 0M433.7 339.32a2.4 2.4 0 1 0 4.8 0a2.4 2.4 0 1 0 -4.8 0M434.8 339.35a2.4 2.4 0 1 0 4.8 0a2.4 2.4 0 1 0 -4.8 0M435.9 339.37a2.4 2.4 0 1 0 4.8 0a2.4 2.4 0 1 0 -4.8 0" fill="#62c4a2"/>
<path d="M15.1 527.6C17.1 527.47 23.2 527.1 27.1 526.8C31 526.5 35.07 526.37 38.5 525.8C41.93 525.23 45.22 524.3 47.7 523.4C50.18 522.5 51.68 521.77 53.4 520.4C55.12 519.03 56.77 517.05 58 515.2C59.23 513.35 59.95 511.67 60.8 509.3C61.65 506.93 62.43 503.97 63.1 501C63.77 498.03 64.23 495.08 64.8 491.5C65.37 487.92 65.92 484 66.5 479.5C67.08 475 67.67 469.58 68.3 464.5C68.93 459.42 69.63 452.95 70.3 449C70.97 445.05 71.7 441.55 72.3 440.8C72.9 440.05 73.35 442.38 73.9 444.5C74.45 446.62 74.68 449.45 75.6 453.5C76.52 457.55 77.92 464.55 79.4 468.8C80.88 473.05 82.58 476.45 84.5 479C86.42 481.55 89.1 482.78 90.9 484.1C92.7 485.42 93.78 486 95.3 486.9C96.82 487.8 98.52 488.78 100 489.5C101.48 490.22 101.42 490.45 104.2 491.2C106.98 491.95 111.65 493.38 116.7 494C121.75 494.62 128.57 494.5 134.5 494.9C140.43 495.3 146.37 496.4 152.3 496.4C158.23 496.4 165.05 495.3 170.1 494.9C175.15 494.5 178.13 494 182.6 494C187.07 494 192.3 494.6 196.9 494.9C201.5 495.2 207.98 495.65 210.2 495.8" stroke="#8a8a8a" stroke-width="1.7" fill="none" stroke-linejoin="round" stroke-linecap="round" />
<path d="M15.1 528.3C17.1 528.18 23.2 527.85 27.1 527.6C31 527.35 34.88 527.27 38.5 526.8C42.12 526.33 45.93 525.83 48.8 524.8C51.67 523.77 53.98 522.07 55.7 520.6C57.42 519.13 58.13 517.93 59.1 516C60.07 514.07 60.77 511.5 61.5 509C62.23 506.5 62.92 503.7 63.5 501C64.08 498.3 64.47 496.07 65 492.8C65.53 489.53 66.12 485.87 66.7 481.4C67.28 476.93 67.87 470.9 68.5 466C69.13 461.1 69.73 457 70.5 452C71.27 447 72.35 440.5 73.1 436C73.85 431.5 74.37 427.57 75 425C75.63 422.43 76.3 420.77 76.9 420.6C77.5 420.43 77.97 421.48 78.6 424C79.23 426.52 79.72 429.93 80.7 435.7C81.68 441.47 83.23 451.78 84.5 458.6C85.77 465.42 87.02 471.78 88.3 476.6C89.58 481.42 91.08 485.02 92.2 487.5C93.32 489.98 93.88 490.27 95 491.5C96.12 492.73 96.17 493.85 98.9 494.9C101.63 495.95 106.95 496.95 111.4 497.8C115.85 498.65 120.85 499.7 125.6 500C130.35 500.3 134.55 500 139.9 499.6C145.25 499.2 152.67 498.27 157.7 497.6C162.73 496.93 165.95 496.23 170.1 495.6C174.25 494.97 178.13 493.93 182.6 493.8C187.07 493.67 192.3 494.47 196.9 494.8C201.5 495.13 207.98 495.63 210.2 495.8" stroke="#f8aa4a" stroke-width="1.5" fill="none" stroke-linejoin="round" stroke-linecap="round" />
<path d="M15.1 527.7C17.1 527.57 23.2 527.18 27.1 526.9C31 526.62 35.07 526.53 38.5 526C41.93 525.47 45.22 524.57 47.7 523.7C50.18 522.83 51.68 522.13 53.4 520.8C55.12 519.47 56.77 517.5 58 515.7C59.23 513.9 59.95 512.28 60.8 510C61.65 507.72 62.43 504.87 63.1 502C63.77 499.13 64.23 496.23 64.8 492.8C65.37 489.37 65.88 485.87 66.5 481.4C67.12 476.93 67.83 470.9 68.5 466C69.17 461.1 69.73 457 70.5 452C71.27 447 72.35 440.5 73.1 436C73.85 431.5 74.37 427.6 75 425C75.63 422.4 76.3 420.57 76.9 420.4C77.5 420.23 77.97 421.45 78.6 424C79.23 426.55 79.72 429.93 80.7 435.7C81.68 441.47 83.23 451.82 84.5 458.6C85.77 465.38 87.02 471.73 88.3 476.4C89.58 481.07 91.08 484.25 92.2 486.6C93.32 488.95 93.95 489.35 95 490.5C96.05 491.65 97 492.72 98.5 493.5C100 494.28 101.85 494.67 104 495.2C106.15 495.73 107.8 496.07 111.4 496.7C115 497.33 120.85 498.7 125.6 499C130.35 499.3 134.55 498.88 139.9 498.5C145.25 498.12 152.67 497.3 157.7 496.7C162.73 496.1 165.95 495.48 170.1 494.9C174.25 494.32 178.13 493.25 182.6 493.2C187.07 493.15 192.3 494.17 196.9 494.6C201.5 495.03 207.98 495.6 210.2 495.8" stroke="#b70e14" stroke-width="2.0" fill="none" stroke-linejoin="round" stroke-linecap="round" />
<path d="M15.7 526C17.6 525.93 23.3 525.9 27.1 525.6C30.9 525.3 35.07 524.8 38.5 524.2C41.93 523.6 45.22 522.85 47.7 522C50.18 521.15 51.68 520.35 53.4 519.1C55.12 517.85 56.77 516.22 58 514.5C59.23 512.78 59.95 511.08 60.8 508.8C61.65 506.52 62.43 503.65 63.1 500.8C63.77 497.95 64.23 494.93 64.8 491.7C65.37 488.47 65.88 485.52 66.5 481.4C67.12 477.28 67.83 472.73 68.5 467C69.17 461.27 69.73 454.67 70.5 447C71.27 439.33 72.18 427.67 73.1 421C74.02 414.33 74.95 409.85 76 407C77.05 404.15 78.45 403.57 79.4 403.9C80.35 404.23 81.05 406.25 81.7 409C82.35 411.75 82.4 414.25 83.3 420.4C84.2 426.55 85.83 437.83 87.1 445.9C88.37 453.97 89.82 462.7 90.9 468.8C91.98 474.9 92.67 478.97 93.6 482.5C94.53 486.03 95.47 487.98 96.5 490C97.53 492.02 97.92 493.18 99.8 494.6C101.68 496.02 103.5 497.32 107.8 498.5C112.1 499.68 119.67 501.17 125.6 501.7C131.53 502.23 137.47 502.23 143.4 501.7C149.33 501.17 155.27 499.63 161.2 498.5C167.13 497.37 173.05 495.35 179 494.9C184.95 494.45 191.7 495.55 196.9 495.8C202.1 496.05 207.98 496.3 210.2 496.4" stroke="#3c3c3c" stroke-width="1.8" fill="none" stroke-linejoin="round" stroke-linecap="round" stroke-dasharray="4 2.6"/>
<path d="M243 533C243.38 533.27 244.27 534.02 245.3 534.6C246.33 535.18 247.67 536.73 249.2 536.5C250.73 536.27 252.97 533.52 254.5 533.2C256.03 532.88 257.2 534.05 258.4 534.6C259.6 535.15 260.6 536.83 261.7 536.5C262.8 536.17 263.78 533.63 265 532.6C266.22 531.57 267.45 530.42 269 530.3C270.55 530.18 272.65 531.42 274.3 531.9C275.95 532.38 277.48 532.65 278.9 533.2C280.32 533.75 281.38 536.07 282.8 535.2C284.22 534.33 286.08 529.65 287.4 528C288.72 526.35 289.6 525.52 290.7 525.3C291.8 525.08 293.12 526.03 294 526.7C294.88 527.37 295.33 530.4 296 529.3C296.67 528.2 297.2 524.57 298 520.1C298.8 515.63 299.97 506.35 300.8 502.5C301.63 498.65 302.22 498.2 303 497C303.78 495.8 304.6 494.92 305.5 495.3C306.4 495.68 307.42 498.23 308.4 499.3C309.38 500.37 310.52 502.17 311.4 501.7C312.28 501.23 313 498.78 313.7 496.5C314.4 494.22 314.7 494.3 315.6 488C316.5 481.7 317.87 468.27 319.1 458.7C320.33 449.13 321.58 437.2 323 430.6C324.42 424 326.12 419.52 327.6 419.1C329.08 418.68 330.55 422.78 331.9 428.1C333.25 433.42 334.38 442.18 335.7 451C337.02 459.82 338.67 472.83 339.8 481C340.93 489.17 341.67 494.83 342.5 500C343.33 505.17 344.08 508.75 344.8 512C345.52 515.25 345.95 517.45 346.8 519.5C347.65 521.55 348.8 523.57 349.9 524.3C351 525.03 352.03 524.27 353.4 523.9C354.77 523.53 356.55 522.1 358.1 522.1C359.65 522.1 361.35 524.18 362.7 523.9C364.05 523.62 364.83 522.25 366.2 520.4C367.57 518.55 369.6 513.95 370.9 512.8C372.2 511.65 373.07 513.17 374 513.5C374.93 513.83 375.23 516.72 376.5 514.8C377.77 512.88 379.68 504.98 381.6 502C383.52 499.02 385.45 497.1 388 496.9C390.55 496.7 394.13 499.73 396.9 500.8C399.67 501.87 402.05 501.82 404.6 503.3C407.15 504.78 409.65 507.57 412.2 509.7C414.75 511.83 417.33 513.77 419.9 516.1C422.47 518.43 425.47 522.35 427.6 523.7C429.73 525.05 431.22 524.42 432.7 524.2C434.18 523.98 435.87 522.7 436.5 522.4" stroke="#8a8a8a" stroke-width="1.8" fill="none" stroke-linejoin="round" stroke-linecap="round" />
<path d="M243 531.9C244.25 531.25 248.37 528.48 250.5 528C252.63 527.52 254.25 529.67 255.8 529C257.35 528.33 258.58 526.25 259.8 524C261.02 521.75 262 517.92 263.1 515.5C264.2 513.08 265.42 510.72 266.4 509.5C267.38 508.28 267.95 508.53 269 508.2C270.05 507.87 271.6 509.47 272.7 507.5C273.8 505.53 274.47 500.45 275.6 496.4C276.73 492.35 278.18 486.35 279.5 483.2C280.82 480.05 282.28 477.72 283.5 477.5C284.72 477.28 285.82 479.2 286.8 481.9C287.78 484.6 288.53 489.1 289.4 493.7C290.27 498.3 291.12 504.12 292 509.5C292.88 514.88 294.03 522.08 294.7 526C295.37 529.92 295.45 533.5 296 533C296.55 532.5 297.23 526 298 523C298.77 520 299.73 517.1 300.6 515C301.47 512.9 302.18 510.28 303.2 510.4C304.22 510.52 305.63 513.85 306.7 515.7C307.77 517.55 308.63 520.03 309.6 521.5C310.57 522.97 311.03 524.5 312.5 524.5C313.97 524.5 316.65 522.15 318.4 521.5C320.15 520.85 321.15 521.47 323 520.6C324.85 519.73 327.75 516.4 329.5 516.3C331.25 516.2 332.25 518.45 333.5 520C334.75 521.55 335.92 524.18 337 525.6C338.08 527.02 339.02 528.35 340 528.5C340.98 528.65 341.83 527 342.9 526.5C343.97 526 345.23 525.37 346.4 525.5C347.57 525.63 348.73 526.67 349.9 527.3C351.07 527.93 352.23 529.13 353.4 529.3C354.57 529.47 355.63 528.48 356.9 528.3C358.17 528.12 359.63 527.58 361 528.2C362.37 528.82 363.65 530.78 365.1 532C366.55 533.22 368.3 535.43 369.7 535.5C371.1 535.57 372.15 533.02 373.5 532.4C374.85 531.78 376.02 531.5 377.8 531.8C379.58 532.1 381.87 534 384.2 534.2C386.53 534.4 388.83 532.78 391.8 533C394.77 533.22 398.17 535.3 402 535.5C405.83 535.7 410.97 534.22 414.8 534.2C418.63 534.18 422.87 534.93 425 535.4C427.13 535.87 426.32 537.07 427.6 537C428.88 536.93 431.22 535.47 432.7 535C434.18 534.53 435.87 534.33 436.5 534.2" stroke="#f8aa4a" stroke-width="1.6" fill="none" stroke-linejoin="round" stroke-linecap="round" />
<path d="M243 532.6C243.82 532.38 245.77 531.58 247.9 531.3C250.03 531.02 253.82 531.45 255.8 530.9C257.78 530.35 258.48 529.25 259.8 528C261.12 526.75 262.38 524.72 263.7 523.4C265.02 522.08 266.48 521.32 267.7 520.1C268.92 518.88 270.02 518.08 271 516.1C271.98 514.12 272.73 511.48 273.6 508.2C274.47 504.92 275.22 500.57 276.2 496.4C277.18 492.23 278.28 486.4 279.5 483.2C280.72 480 282.28 477.42 283.5 477.2C284.72 476.98 285.82 479.15 286.8 481.9C287.78 484.65 288.53 489.1 289.4 493.7C290.27 498.3 291.12 504.23 292 509.5C292.88 514.77 294.03 521.78 294.7 525.3C295.37 528.82 295.45 531.32 296 530.6C296.55 529.88 297.2 523.58 298 521C298.8 518.42 299.93 516.28 300.8 515.1C301.67 513.92 302.32 513.6 303.2 513.9C304.08 514.2 305.03 515.53 306.1 516.9C307.17 518.27 308.53 521.03 309.6 522.1C310.67 523.17 311.43 523.35 312.5 523.3C313.57 523.25 314.63 522.05 316 521.8C317.37 521.55 319.23 522.23 320.7 521.8C322.17 521.37 323.33 520.02 324.8 519.2C326.27 518.38 328.05 516.7 329.5 516.9C330.95 517.1 332.25 518.95 333.5 520.4C334.75 521.85 335.92 524.28 337 525.6C338.08 526.92 339.02 528.1 340 528.3C340.98 528.5 341.83 527.3 342.9 526.8C343.97 526.3 345.23 525.3 346.4 525.3C347.57 525.3 348.73 526.2 349.9 526.8C351.07 527.4 352.23 528.7 353.4 528.9C354.57 529.1 355.63 528.22 356.9 528C358.17 527.78 359.63 527.02 361 527.6C362.37 528.18 363.65 530.27 365.1 531.5C366.55 532.73 368.3 534.92 369.7 535C371.1 535.08 372.15 532.6 373.5 532C374.85 531.4 376.02 531.08 377.8 531.4C379.58 531.72 381.87 533.68 384.2 533.9C386.53 534.12 388.83 532.48 391.8 532.7C394.77 532.92 398.17 535 402 535.2C405.83 535.4 410.97 533.9 414.8 533.9C418.63 533.9 422.87 534.68 425 535.2C427.13 535.72 426.32 537.08 427.6 537C428.88 536.92 431.22 535.22 432.7 534.7C434.18 534.18 435.87 534.03 436.5 533.9" stroke="#b70e14" stroke-width="1.8" fill="none" stroke-linejoin="round" stroke-linecap="round" />
<path d="M467.6 524.3C468.27 523.42 470.27 520.67 471.6 519C472.93 517.33 474.28 514.52 475.6 514.3C476.92 514.08 478.18 517.35 479.5 517.7C480.82 518.05 482.4 517.93 483.5 516.4C484.6 514.87 485.22 511.15 486.1 508.5C486.98 505.85 487.7 502.48 488.8 500.5C489.9 498.52 491.62 497.92 492.7 496.6C493.78 495.28 494.55 494.58 495.3 492.6C496.05 490.62 496.62 487.77 497.2 484.7C497.78 481.63 498.32 478.6 498.8 474.2C499.28 469.8 499.67 462.7 500.1 458.3C500.53 453.9 500.97 451.32 501.4 447.8C501.83 444.28 502.25 440.5 502.7 437.2C503.15 433.9 503.7 430.63 504.1 428C504.5 425.37 504.72 423.6 505.1 421.4C505.48 419.2 505.92 416.75 506.4 414.8C506.88 412.85 507.42 409.92 508 409.7C508.58 409.48 509.37 411.55 509.9 413.5C510.43 415.45 510.77 418.32 511.2 421.4C511.63 424.48 512.07 428.27 512.5 432C512.93 435.73 513.37 439.85 513.8 443.8C514.23 447.75 514.65 451.52 515.1 455.7C515.55 459.88 516.05 464.5 516.5 468.9C516.95 473.3 517.37 477.27 517.8 482.1C518.23 486.93 518.75 493.5 519.1 497.9C519.45 502.3 519.67 505.15 519.9 508.5C520.13 511.85 520.2 518.45 520.5 518C520.8 517.55 521.18 509.37 521.7 505.8C522.22 502.23 523.02 499.23 523.6 496.6C524.18 493.97 524.63 491.52 525.2 490C525.77 488.48 526.33 487.28 527 487.5C527.67 487.72 528.53 489.35 529.2 491.3C529.87 493.25 529.98 496.9 531 499.2C532.02 501.5 533.62 504.5 535.3 505.1C536.98 505.7 539.35 503.08 541.1 502.8C542.85 502.52 544.33 504.67 545.8 503.4C547.27 502.13 548.55 497.15 549.9 495.2C551.25 493.25 552.65 491.32 553.9 491.7C555.15 492.08 556.22 494.58 557.4 497.5C558.58 500.42 559.92 506.18 561 509.2C562.08 512.22 562.83 515.12 563.9 515.6C564.97 516.08 566.23 513.07 567.4 512.1C568.57 511.13 569.63 509.4 570.9 509.8C572.17 510.2 573.73 513.13 575 514.5C576.27 515.87 576.95 518.1 578.5 518C580.05 517.9 582.65 513.82 584.3 513.9C585.95 513.98 587.13 516.57 588.4 518.5C589.67 520.43 591.03 523.75 591.9 525.5C592.77 527.25 592.63 529.48 593.6 529C594.57 528.52 596.33 524.05 597.7 522.6C599.07 521.15 600.43 520 601.8 520.3C603.17 520.6 604.57 522.7 605.9 524.4C607.23 526.1 608.53 530.15 609.8 530.5C611.07 530.85 612.18 527.65 613.5 526.5C614.82 525.35 616.28 523.6 617.7 523.6C619.12 523.6 620.48 525.58 622 526.5C623.52 527.42 624.97 528.85 626.8 529.1C628.63 529.35 630.77 528.4 633 528C635.23 527.6 637.8 526.22 640.2 526.7C642.6 527.18 645.18 530.2 647.4 530.9C649.62 531.6 651.68 531.1 653.5 530.9C655.32 530.7 657.5 529.9 658.3 529.7" stroke="#b70e14" stroke-width="1.3" fill="none" stroke-linejoin="round" stroke-linecap="round" />
<path d="M465 524.3a2.6 2.6 0 1 0 5.2 0a2.6 2.6 0 1 0 -5.2 0M466.1 522.82a2.6 2.6 0 1 0 5.2 0a2.6 2.6 0 1 0 -5.2 0M467.2 521.34a2.6 2.6 0 1 0 5.2 0a2.6 2.6 0 1 0 -5.2 0M468.3 519.89a2.6 2.6 0 1 0 5.2 0a2.6 2.6 0 1 0 -5.2 0M469.4 518.47a2.6 2.6 0 1 0 5.2 0a2.6 2.6 0 1 0 -5.2 0M470.5 516.84a2.6 2.6 0 1 0 5.2 0a2.6 2.6 0 1 0 -5.2 0M471.6 515.33a2.6 2.6 0 1 0 5.2 0a2.6 2.6 0 1 0 -5.2 0M472.7 514.4a2.6 2.6 0 1 0 5.2 0a2.6 2.6 0 1 0 -5.2 0M473.8 514.55a2.6 2.6 0 1 0 5.2 0a2.6 2.6 0 1 0 -5.2 0M474.9 515.72a2.6 2.6 0 1 0 5.2 0a2.6 2.6 0 1 0 -5.2 0M476 517.07a2.6 2.6 0 1 0 5.2 0a2.6 2.6 0 1 0 -5.2 0M477.1 517.75a2.6 2.6 0 1 0 5.2 0a2.6 2.6 0 1 0 -5.2 0M478.2 517.86a2.6 2.6 0 1 0 5.2 0a2.6 2.6 0 1 0 -5.2 0M479.3 517.66a2.6 2.6 0 1 0 5.2 0a2.6 2.6 0 1 0 -5.2 0M480.4 516.97a2.6 2.6 0 1 0 5.2 0a2.6 2.6 0 1 0 -5.2 0M481.5 515.26a2.6 2.6 0 1 0 5.2 0a2.6 2.6 0 1 0 -5.2 0M482.6 511.68a2.6 2.6 0 1 0 5.2 0a2.6 2.6 0 1 0 -5.2 0M483.7 507.88a2.6 2.6 0 1 0 5.2 0a2.6 2.6 0 1 0 -5.2 0M484.8 504.15a2.6 2.6 0 1 0 5.2 0a2.6 2.6 0 1 0 -5.2 0M485.9 501.09a2.6 2.6 0 1 0 5.2 0a2.6 2.6 0 1 0 -5.2 0M487 499.37a2.6 2.6 0 1 0 5.2 0a2.6 2.6 0 1 0 -5.2 0M488.1 498.35a2.6 2.6 0 1 0 5.2 0a2.6 2.6 0 1 0 -5.2 0M489.2 497.48a2.6 2.6 0 1 0 5.2 0a2.6 2.6 0 1 0 -5.2 0M490.3 496.36a2.6 2.6 0 1 0 5.2 0a2.6 2.6 0 1 0 -5.2 0M491.4 495.02a2.6 2.6 0 1 0 5.2 0a2.6 2.6 0 1 0 -5.2 0M492.5 493.1a2.6 2.6 0 1 0 5.2 0a2.6 2.6 0 1 0 -5.2 0M493.6 489.54a2.6 2.6 0 1 0 5.2 0a2.6 2.6 0 1 0 -5.2 0M494.7 484.17a2.6 2.6 0 1 0 5.2 0a2.6 2.6 0 1 0 -5.2 0M495.8 477.47a2.6 2.6 0 1 0 5.2 0a2.6 2.6 0 1 0 -5.2 0M496.9 465.82a2.6 2.6 0 1 0 5.2 0a2.6 2.6 0 1 0 -5.2 0M498 453.87a2.6 2.6 0 1 0 5.2 0a2.6 2.6 0 1 0 -5.2 0M499.1 445.31a2.6 2.6 0 1 0 5.2 0a2.6 2.6 0 1 0 -5.2 0M500.2 436.48a2.6 2.6 0 1 0 5.2 0a2.6 2.6 0 1 0 -5.2 0M501.3 429.29a2.6 2.6 0 1 0 5.2 0a2.6 2.6 0 1 0 -5.2 0M502.4 421.99a2.6 2.6 0 1 0 5.2 0a2.6 2.6 0 1 0 -5.2 0M503.5 416.1a2.6 2.6 0 1 0 5.2 0a2.6 2.6 0 1 0 -5.2 0M504.6 411.46a2.6 2.6 0 1 0 5.2 0a2.6 2.6 0 1 0 -5.2 0M505.7 409.77a2.6 2.6 0 1 0 5.2 0a2.6 2.6 0 1 0 -5.2 0M506.8 411.88a2.6 2.6 0 1 0 5.2 0a2.6 2.6 0 1 0 -5.2 0M507.9 416.46a2.6 2.6 0 1 0 5.2 0a2.6 2.6 0 1 0 -5.2 0M509 424.42a2.6 2.6 0 1 0 5.2 0a2.6 2.6 0 1 0 -5.2 0M510.1 433.75a2.6 2.6 0 1 0 5.2 0a2.6 2.6 0 1 0 -5.2 0M511.2 443.8a2.6 2.6 0 1 0 5.2 0a2.6 2.6 0 1 0 -5.2 0M512.3 453.85a2.6 2.6 0 1 0 5.2 0a2.6 2.6 0 1 0 -5.2 0M513.4 464.1a2.6 2.6 0 1 0 5.2 0a2.6 2.6 0 1 0 -5.2 0M514.5 474.78a2.6 2.6 0 1 0 5.2 0a2.6 2.6 0 1 0 -5.2 0M515.6 486.74a2.6 2.6 0 1 0 5.2 0a2.6 2.6 0 1 0 -5.2 0M516.7 500.43a2.6 2.6 0 1 0 5.2 0a2.6 2.6 0 1 0 -5.2 0M517.8 517.86a2.6 2.6 0 1 0 5.2 0a2.6 2.6 0 1 0 -5.2 0M518.9 507.45a2.6 2.6 0 1 0 5.2 0a2.6 2.6 0 1 0 -5.2 0M520 500.96a2.6 2.6 0 1 0 5.2 0a2.6 2.6 0 1 0 -5.2 0M521.1 496.14a2.6 2.6 0 1 0 5.2 0a2.6 2.6 0 1 0 -5.2 0M522.2 491.28a2.6 2.6 0 1 0 5.2 0a2.6 2.6 0 1 0 -5.2 0M523.3 488.38a2.6 2.6 0 1 0 5.2 0a2.6 2.6 0 1 0 -5.2 0M524.4 487.5a2.6 2.6 0 1 0 5.2 0a2.6 2.6 0 1 0 -5.2 0M525.5 488.75a2.6 2.6 0 1 0 5.2 0a2.6 2.6 0 1 0 -5.2 0M526.6 491.3a2.6 2.6 0 1 0 5.2 0a2.6 2.6 0 1 0 -5.2 0M527.7 495.85a2.6 2.6 0 1 0 5.2 0a2.6 2.6 0 1 0 -5.2 0M528.8 500.99a2.6 2.6 0 1 0 5.2 0a2.6 2.6 0 1 0 -5.2 0M529.9 505.93a2.6 2.6 0 1 0 5.2 0a2.6 2.6 0 1 0 -5.2 0M531 511a2.6 2.6 0 1 0 5.2 0a2.6 2.6 0 1 0 -5.2 0M532.1 515.78a2.6 2.6 0 1 0 5.2 0a2.6 2.6 0 1 0 -5.2 0M533.2 516.48a2.6 2.6 0 1 0 5.2 0a2.6 2.6 0 1 0 -5.2 0M534.3 515.39a2.6 2.6 0 1 0 5.2 0a2.6 2.6 0 1 0 -5.2 0M535.4 514a2.6 2.6 0 1 0 5.2 0a2.6 2.6 0 1 0 -5.2 0M536.5 513.06a2.6 2.6 0 1 0 5.2 0a2.6 2.6 0 1 0 -5.2 0M537.6 513.29a2.6 2.6 0 1 0 5.2 0a2.6 2.6 0 1 0 -5.2 0M538.7 514.41a2.6 2.6 0 1 0 5.2 0a2.6 2.6 0 1 0 -5.2 0M539.8 516.06a2.6 2.6 0 1 0 5.2 0a2.6 2.6 0 1 0 -5.2 0M540.9 517.92a2.6 2.6 0 1 0 5.2 0a2.6 2.6 0 1 0 -5.2 0M542 520.51a2.6 2.6 0 1 0 5.2 0a2.6 2.6 0 1 0 -5.2 0M543.1 523.09a2.6 2.6 0 1 0 5.2 0a2.6 2.6 0 1 0 -5.2 0M544.2 524.93a2.6 2.6 0 1 0 5.2 0a2.6 2.6 0 1 0 -5.2 0M545.3 525.56a2.6 2.6 0 1 0 5.2 0a2.6 2.6 0 1 0 -5.2 0M546.4 524.98a2.6 2.6 0 1 0 5.2 0a2.6 2.6 0 1 0 -5.2 0M547.5 523.79a2.6 2.6 0 1 0 5.2 0a2.6 2.6 0 1 0 -5.2 0M548.6 522.55a2.6 2.6 0 1 0 5.2 0a2.6 2.6 0 1 0 -5.2 0M549.7 521.67a2.6 2.6 0 1 0 5.2 0a2.6 2.6 0 1 0 -5.2 0M550.8 521.5a2.6 2.6 0 1 0 5.2 0a2.6 2.6 0 1 0 -5.2 0M551.9 522.2a2.6 2.6 0 1 0 5.2 0a2.6 2.6 0 1 0 -5.2 0M553 523.43a2.6 2.6 0 1 0 5.2 0a2.6 2.6 0 1 0 -5.2 0M554.1 524.93a2.6 2.6 0 1 0 5.2 0a2.6 2.6 0 1 0 -5.2 0M555.2 526.47a2.6 2.6 0 1 0 5.2 0a2.6 2.6 0 1 0 -5.2 0M556.3 527.84a2.6 2.6 0 1 0 5.2 0a2.6 2.6 0 1 0 -5.2 0M557.4 528.81a2.6 2.6 0 1 0 5.2 0a2.6 2.6 0 1 0 -5.2 0M558.5 529.04a2.6 2.6 0 1 0 5.2 0a2.6 2.6 0 1 0 -5.2 0M559.6 528.47a2.6 2.6 0 1 0 5.2 0a2.6 2.6 0 1 0 -5.2 0M560.7 527.39a2.6 2.6 0 1 0 5.2 0a2.6 2.6 0 1 0 -5.2 0M561.8 526.26a2.6 2.6 0 1 0 5.2 0a2.6 2.6 0 1 0 -5.2 0M562.9 525.57a2.6 2.6 0 1 0 5.2 0a2.6 2.6 0 1 0 -5.2 0M564 525.61a2.6 2.6 0 1 0 5.2 0a2.6 2.6 0 1 0 -5.2 0M565.1 526.25a2.6 2.6 0 1 0 5.2 0a2.6 2.6 0 1 0 -5.2 0M566.2 527.22a2.6 2.6 0 1 0 5.2 0a2.6 2.6 0 1 0 -5.2 0M567.3 528.32a2.6 2.6 0 1 0 5.2 0a2.6 2.6 0 1 0 -5.2 0M568.4 529.4a2.6 2.6 0 1 0 5.2 0a2.6 2.6 0 1 0 -5.2 0M569.5 530.3a2.6 2.6 0 1 0 5.2 0a2.6 2.6 0 1 0 -5.2 0M570.6 530.8a2.6 2.6 0 1 0 5.2 0a2.6 2.6 0 1 0 -5.2 0M571.7 530.69a2.6 2.6 0 1 0 5.2 0a2.6 2.6 0 1 0 -5.2 0M572.8 530.06a2.6 2.6 0 1 0 5.2 0a2.6 2.6 0 1 0 -5.2 0M573.9 529.17a2.6 2.6 0 1 0 5.2 0a2.6 2.6 0 1 0 -5.2 0M575 528.35a2.6 2.6 0 1 0 5.2 0a2.6 2.6 0 1 0 -5.2 0M576.1 527.93a2.6 2.6 0 1 0 5.2 0a2.6 2.6 0 1 0 -5.2 0M577.2 528.03a2.6 2.6 0 1 0 5.2 0a2.6 2.6 0 1 0 -5.2 0M578.3 528.5a2.6 2.6 0 1 0 5.2 0a2.6 2.6 0 1 0 -5.2 0M579.4 529.17a2.6 2.6 0 1 0 5.2 0a2.6 2.6 0 1 0 -5.2 0M580.5 529.92a2.6 2.6 0 1 0 5.2 0a2.6 2.6 0 1 0 -5.2 0M581.6 530.62a2.6 2.6 0 1 0 5.2 0a2.6 2.6 0 1 0 -5.2 0M582.7 531.18a2.6 2.6 0 1 0 5.2 0a2.6 2.6 0 1 0 -5.2 0M583.8 531.42a2.6 2.6 0 1 0 5.2 0a2.6 2.6 0 1 0 -5.2 0M584.9 531.26a2.6 2.6 0 1 0 5.2 0a2.6 2.6 0 1 0 -5.2 0M586 530.81a2.6 2.6 0 1 0 5.2 0a2.6 2.6 0 1 0 -5.2 0M587.1 530.24a2.6 2.6 0 1 0 5.2 0a2.6 2.6 0 1 0 -5.2 0M588.2 529.76a2.6 2.6 0 1 0 5.2 0a2.6 2.6 0 1 0 -5.2 0M589.3 529.6a2.6 2.6 0 1 0 5.2 0a2.6 2.6 0 1 0 -5.2 0M590.4 529.85a2.6 2.6 0 1 0 5.2 0a2.6 2.6 0 1 0 -5.2 0M591.5 530.4a2.6 2.6 0 1 0 5.2 0a2.6 2.6 0 1 0 -5.2 0M592.6 531.04a2.6 2.6 0 1 0 5.2 0a2.6 2.6 0 1 0 -5.2 0M593.7 531.61a2.6 2.6 0 1 0 5.2 0a2.6 2.6 0 1 0 -5.2 0M594.8 531.96a2.6 2.6 0 1 0 5.2 0a2.6 2.6 0 1 0 -5.2 0M595.9 532a2.6 2.6 0 1 0 5.2 0a2.6 2.6 0 1 0 -5.2 0M597 531.83a2.6 2.6 0 1 0 5.2 0a2.6 2.6 0 1 0 -5.2 0M598.1 531.56a2.6 2.6 0 1 0 5.2 0a2.6 2.6 0 1 0 -5.2 0M599.2 531.25a2.6 2.6 0 1 0 5.2 0a2.6 2.6 0 1 0 -5.2 0M600.3 530.98a2.6 2.6 0 1 0 5.2 0a2.6 2.6 0 1 0 -5.2 0M601.4 530.81a2.6 2.6 0 1 0 5.2 0a2.6 2.6 0 1 0 -5.2 0M602.5 530.84a2.6 2.6 0 1 0 5.2 0a2.6 2.6 0 1 0 -5.2 0M603.6 531.07a2.6 2.6 0 1 0 5.2 0a2.6 2.6 0 1 0 -5.2 0M604.7 531.48a2.6 2.6 0 1 0 5.2 0a2.6 2.6 0 1 0 -5.2 0M605.8 531.94a2.6 2.6 0 1 0 5.2 0a2.6 2.6 0 1 0 -5.2 0M606.9 532.33a2.6 2.6 0 1 0 5.2 0a2.6 2.6 0 1 0 -5.2 0M608 532.61a2.6 2.6 0 1 0 5.2 0a2.6 2.6 0 1 0 -5.2 0M609.1 532.8a2.6 2.6 0 1 0 5.2 0a2.6 2.6 0 1 0 -5.2 0M610.2 532.97a2.6 2.6 0 1 0 5.2 0a2.6 2.6 0 1 0 -5.2 0M611.3 533.14a2.6 2.6 0 1 0 5.2 0a2.6 2.6 0 1 0 -5.2 0M612.4 533.29a2.6 2.6 0 1 0 5.2 0a2.6 2.6 0 1 0 -5.2 0M613.5 533.42a2.6 2.6 0 1 0 5.2 0a2.6 2.6 0 1 0 -5.2 0M614.6 533.54a2.6 2.6 0 1 0 5.2 0a2.6 2.6 0 1 0 -5.2 0M615.7 533.64a2.6 2.6 0 1 0 5.2 0a2.6 2.6 0 1 0 -5.2 0M616.8 533.73a2.6 2.6 0 1 0 5.2 0a2.6 2.6 0 1 0 -5.2 0M617.9 533.8a2.6 2.6 0 1 0 5.2 0a2.6 2.6 0 1 0 -5.2 0M619 533.85a2.6 2.6 0 1 0 5.2 0a2.6 2.6 0 1 0 -5.2 0M620.1 533.89a2.6 2.6 0 1 0 5.2 0a2.6 2.6 0 1 0 -5.2 0M621.2 533.91a2.6 2.6 0 1 0 5.2 0a2.6 2.6 0 1 0 -5.2 0M622.3 533.91a2.6 2.6 0 1 0 5.2 0a2.6 2.6 0 1 0 -5.2 0M623.4 533.89a2.6 2.6 0 1 0 5.2 0a2.6 2.6 0 1 0 -5.2 0M624.5 533.85a2.6 2.6 0 1 0 5.2 0a2.6 2.6 0 1 0 -5.2 0M625.6 533.81a2.6 2.6 0 1 0 5.2 0a2.6 2.6 0 1 0 -5.2 0M626.7 533.76a2.6 2.6 0 1 0 5.2 0a2.6 2.6 0 1 0 -5.2 0M627.8 533.71a2.6 2.6 0 1 0 5.2 0a2.6 2.6 0 1 0 -5.2 0M628.9 533.66a2.6 2.6 0 1 0 5.2 0a2.6 2.6 0 1 0 -5.2 0M630 533.6a2.6 2.6 0 1 0 5.2 0a2.6 2.6 0 1 0 -5.2 0M631.1 533.54a2.6 2.6 0 1 0 5.2 0a2.6 2.6 0 1 0 -5.2 0M632.2 533.49a2.6 2.6 0 1 0 5.2 0a2.6 2.6 0 1 0 -5.2 0M633.3 533.44a2.6 2.6 0 1 0 5.2 0a2.6 2.6 0 1 0 -5.2 0M634.4 533.39a2.6 2.6 0 1 0 5.2 0a2.6 2.6 0 1 0 -5.2 0M635.5 533.36a2.6 2.6 0 1 0 5.2 0a2.6 2.6 0 1 0 -5.2 0M636.6 533.33a2.6 2.6 0 1 0 5.2 0a2.6 2.6 0 1 0 -5.2 0M637.7 533.31a2.6 2.6 0 1 0 5.2 0a2.6 2.6 0 1 0 -5.2 0M638.8 533.3a2.6 2.6 0 1 0 5.2 0a2.6 2.6 0 1 0 -5.2 0M639.9 533.31a2.6 2.6 0 1 0 5.2 0a2.6 2.6 0 1 0 -5.2 0M641 533.32a2.6 2.6 0 1 0 5.2 0a2.6 2.6 0 1 0 -5.2 0M642.1 533.34a2.6 2.6 0 1 0 5.2 0a2.6 2.6 0 1 0 -5.2 0M643.2 533.36a2.6 2.6 0 1 0 5.2 0a2.6 2.6 0 1 0 -5.2 0M644.3 533.39a2.6 2.6 0 1 0 5.2 0a2.6 2.6 0 1 0 -5.2 0M645.4 533.42a2.6 2.6 0 1 0 5.2 0a2.6 2.6 0 1 0 -5.2 0M646.5 533.45a2.6 2.6 0 1 0 5.2 0a2.6 2.6 0 1 0 -5.2 0M647.6 533.49a2.6 2.6 0 1 0 5.2 0a2.6 2.6 0 1 0 -5.2 0M648.7 533.53a2.6 2.6 0 1 0 5.2 0a2.6 2.6 0 1 0 -5.2 0M649.8 533.57a2.6 2.6 0 1 0 5.2 0a2.6 2.6 0 1 0 -5.2 0M650.9 533.61a2.6 2.6 0 1 0 5.2 0a2.6 2.6 0 1 0 -5.2 0M652 533.65a2.6 2.6 0 1 0 5.2 0a2.6 2.6 0 1 0 -5.2 0M653.1 533.7a2.6 2.6 0 1 0 5.2 0a2.6 2.6 0 1 0 -5.2 0M654.2 533.74a2.6 2.6 0 1 0 5.2 0a2.6 2.6 0 1 0 -5.2 0M655.3 533.79a2.6 2.6 0 1 0 5.2 0a2.6 2.6 0 1 0 -5.2 0M656.4 533.83a2.6 2.6 0 1 0 5.2 0a2.6 2.6 0 1 0 -5.2 0M657.5 533.88a2.6 2.6 0 1 0 5.2 0a2.6 2.6 0 1 0 -5.2 0" fill="#b70e14"/>
<rect x="16.7" y="9" width="192.8" height="155.4" fill="none" stroke="#222222" stroke-width="1"/>
<rect x="242.8" y="9.4" width="192.2" height="155" fill="none" stroke="#222222" stroke-width="1"/>
<rect x="16.6" y="196.3" width="191.7" height="154.1" fill="none" stroke="#222222" stroke-width="1"/>
<rect x="243.7" y="195.4" width="193.5" height="154.9" fill="none" stroke="#222222" stroke-width="1"/>
<rect x="16.6" y="386.2" width="191.7" height="154" fill="none" stroke="#222222" stroke-width="1"/>
<rect x="243.6" y="386.4" width="191.1" height="153.8" fill="none" stroke="#222222" stroke-width="1"/>
<rect x="467.7" y="386.4" width="191.3" height="154" fill="none" stroke="#222222" stroke-width="1"/>
<rect x="470.7" y="8.8" width="175.5" height="70.3" fill="none" stroke="#222222" stroke-width="1"/>
<rect x="470.6" y="101.2" width="175.1" height="69.2" fill="none" stroke="#222222" stroke-width="1"/>
<rect x="470.6" y="193.5" width="174" height="69.3" fill="none" stroke="#222222" stroke-width="1"/>
<rect x="471.2" y="286.8" width="173.4" height="69" fill="none" stroke="#222222" stroke-width="1"/>
</g></svg>
</body></html>
